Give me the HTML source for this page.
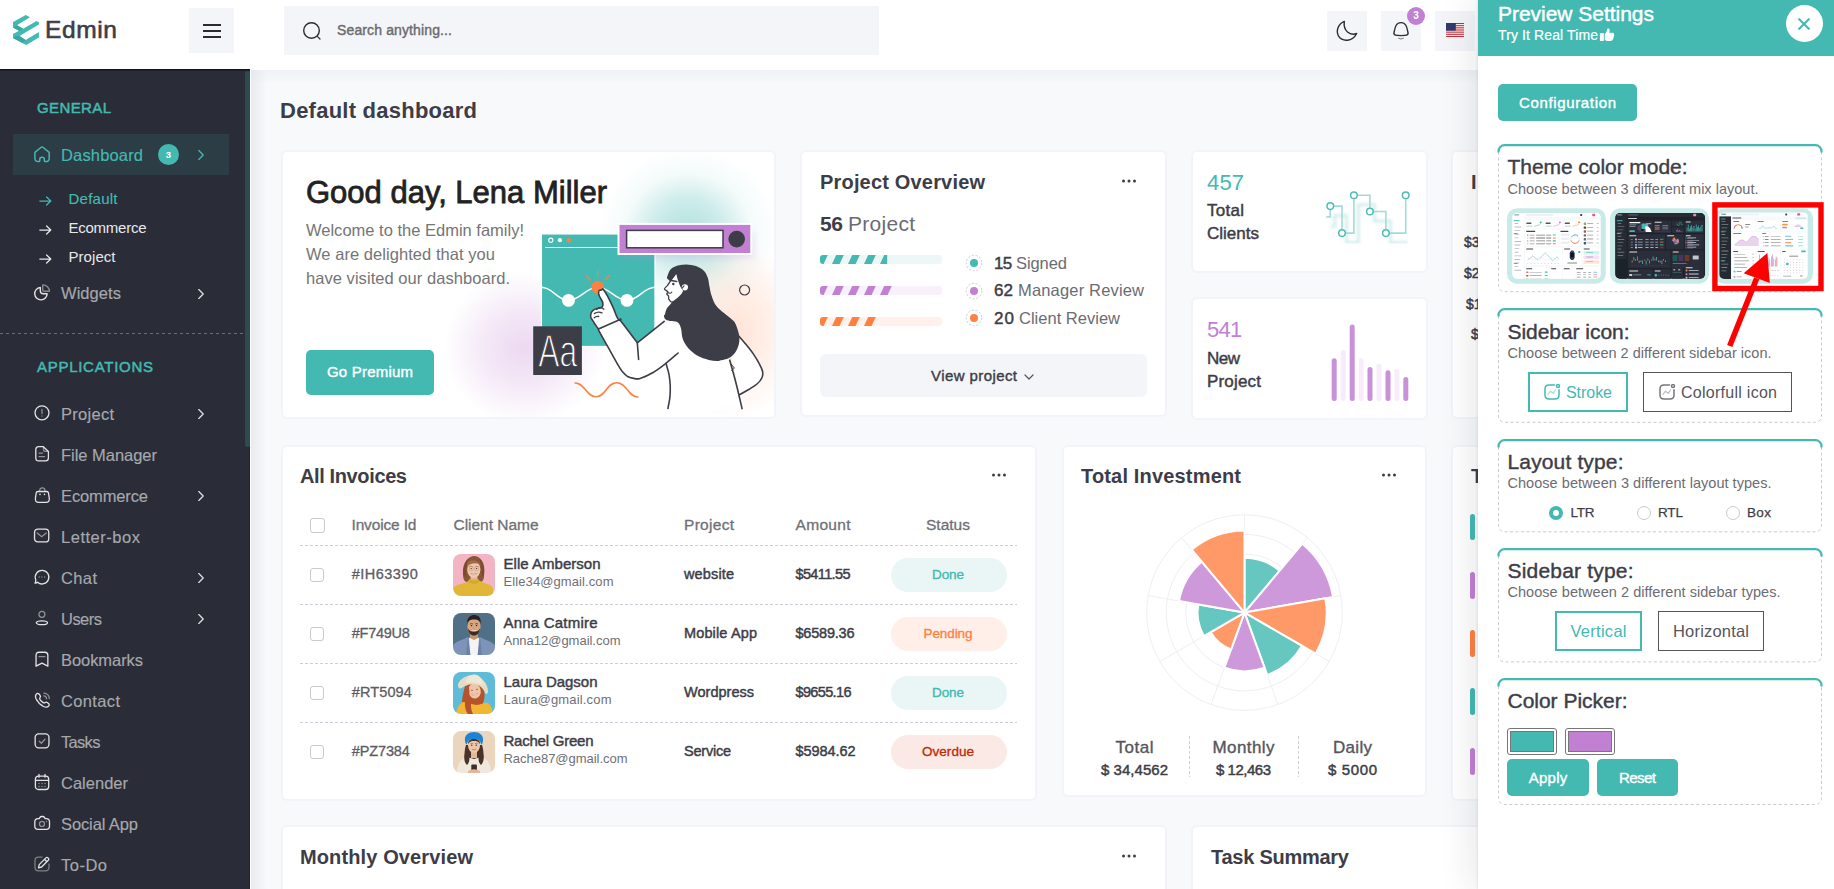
<!DOCTYPE html><html lang="en"><head><meta charset="utf-8"><title>Edmin - Default dashboard</title><style>

*{box-sizing:border-box;margin:0;padding:0}
html,body{width:1834px;height:889px;overflow:hidden;background:#fff;font-family:"Liberation Sans",sans-serif;}
body{position:relative}
#root{position:absolute;left:0;top:0;width:1834px;height:889px;overflow:hidden}
#root div,#root span.t,#root svg{position:absolute}
span.t{white-space:nowrap;display:block}
.card{background:#fff;border-radius:6px;border:2px solid #F3F4F9}

</style></head><body><div id="root">
<div style="left:251px;top:70px;width:1600px;height:830px;background:#F8F9FB"></div>
<div style="left:251px;top:70px;width:1600px;height:14px;background:linear-gradient(180deg,rgba(228,233,240,.5),rgba(228,233,240,0))"></div>
<div style="left:251px;top:70px;width:16px;height:830px;background:linear-gradient(90deg,rgba(226,229,234,.75),rgba(226,229,234,0))"></div>
<span class="t" style="top:99.85px;font-size:22px;line-height:22px;color:#3D3D47;font-weight:700;letter-spacing:0.241px;left:280px;">Default dashboard</span>
<div class="card" style="left:281px;top:150px;width:495px;height:269px"></div>
<svg style="left:281px;top:151px" width="494" height="266" viewBox="281 151 494 266">
<defs>
<radialGradient id="gt"><stop offset="0" stop-color="#43B9B2" stop-opacity=".42"/><stop offset=".4" stop-color="#43B9B2" stop-opacity=".26"/><stop offset=".7" stop-color="#43B9B2" stop-opacity=".06"/><stop offset="1" stop-color="#43B9B2" stop-opacity="0"/></radialGradient>
<radialGradient id="gp"><stop offset="0" stop-color="#C280D2" stop-opacity=".3"/><stop offset=".45" stop-color="#C280D2" stop-opacity=".19"/><stop offset="1" stop-color="#C280D2" stop-opacity="0"/></radialGradient>
<radialGradient id="go"><stop offset="0" stop-color="#FF9461" stop-opacity=".26"/><stop offset=".5" stop-color="#FF9461" stop-opacity=".14"/><stop offset="1" stop-color="#FF9461" stop-opacity="0"/></radialGradient>
<filter id="gsh" x="-10%" y="-30%" width="120%" height="170%"><feGaussianBlur stdDeviation="3"/></filter><clipPath id="gcl"><rect x="283" y="152" width="491" height="265" rx="4"/></clipPath>
</defs>
<g clip-path="url(#gcl)">
<ellipse cx="688" cy="232" rx="90" ry="84" fill="url(#gt)"/>
<ellipse cx="524" cy="348" rx="80" ry="76" fill="url(#gp)"/>
<ellipse cx="735" cy="330" rx="70" ry="88" fill="url(#go)"/>
<rect x="541.4" y="233.9" width="113.6" height="112.6" fill="#43B9B2" stroke="#fff" stroke-width="1.3"/>
<path d="M545.2 247.5H618" stroke="#fff" stroke-width="1.1"/>
<circle cx="550.8" cy="240.2" r="2.1" fill="none" stroke="#fff" stroke-width="1.1"/><circle cx="559.9" cy="240.2" r="2.1" fill="#fff"/><circle cx="568.9" cy="240.2" r="2.2" fill="#FF8142"/>
<path d="M541.4 287.3C553 287.3 557 300.4 568.5 300.4C580 300.4 586 287.3 597.7 287.3C609.5 287.3 615.5 300.4 627 300.4C638.5 300.4 643.500 287.3 655 287.3" fill="none" stroke="#fff" stroke-width="1.5"/>
<circle cx="568.5" cy="300.4" r="6.4" fill="#fff"/><circle cx="627" cy="300.4" r="6.4" fill="#fff"/>
<circle cx="597.7" cy="287.3" r="6.3" fill="#FF8142"/>
<path d="M597.7 270.5V277M586 275.5L590.6 280M609.600 275.5L605 280" stroke="#FF8142" stroke-width="1.1" stroke-linecap="round"/>
<rect x="622" y="232" width="132" height="27" fill="#C280D2" opacity=".18" filter="url(#gsh)"/><rect x="618.5" y="223.9" width="132.8" height="30.1" fill="#C280D2" stroke="#fff" stroke-width="2"/>
<rect x="626.6" y="230.4" width="96.400" height="17.4" fill="#fff" stroke="#3D3D47" stroke-width="1.5"/>
<circle cx="736.7" cy="239.1" r="8.3" fill="#3D3D47"/>
<circle cx="744.6" cy="290" r="5" fill="none" stroke="#3D3D47" stroke-width="1.2"/>
<path d="M575.1 383C585 383 586 396.7 595.9 396.7C606 396.7 606.500 382.8 616.6 382.8C627 382.8 628 397 637.9 397" fill="none" stroke="#FF8142" stroke-width="1.6" stroke-linecap="round"/>
<!-- right arm -->
<path d="M737.5 334.4C738.9 336.1 743.2 341.0 745.9 344.3C748.5 347.5 751.1 350.7 753.3 353.9C755.5 357.1 757.7 360.6 759.2 363.6C760.8 366.5 762.1 369.1 762.6 371.5C763.0 374.0 762.8 376.0 761.8 378.0C760.9 380.1 759.2 382.1 757.0 384.0C754.8 385.9 751.6 387.7 748.7 389.5C745.7 391.3 740.9 393.9 739.4 394.7L736.6 379.9L731.0 353.9Z" fill="#fff"/>
<path d="M737.5 334.4C738.9 336.1 743.2 341.0 745.9 344.3C748.5 347.5 751.1 350.7 753.3 353.9C755.5 357.1 757.7 360.6 759.2 363.6C760.8 366.5 762.1 369.1 762.6 371.5C763.0 374.0 762.8 376.0 761.8 378.0C760.9 380.1 759.2 382.1 757.0 384.0C754.8 385.9 751.6 387.7 748.7 389.5C745.7 391.3 740.9 393.9 739.4 394.7" fill="none" stroke="#3D3D47" stroke-width="1.6" stroke-linecap="round"/>
<!-- torso -->
<path d="M666.1 361.3L670.2 385.5L667.9 409.6L742.2 409.6L736.6 385.5L729.5 359.5L708.8 339.1L679.1 342.8Z" fill="#fff"/>
<path d="M666.1 363.2C667.4 370.6 669.5 370.1 670.2 385.5C670.8 400.8 668.7 401.3 667.9 409.2" fill="none" stroke="#3D3D47" stroke-width="1.6"/>
<path d="M729.5 359.5C731.0 364.7 734.1 375.5 736.6 385.5C739.1 395.4 741.0 404.5 742.2 409.2" fill="none" stroke="#3D3D47" stroke-width="1.6"/>
<path d="M730.7 363.6L734.4 368.0L731.4 371.0" fill="none" stroke="#3D3D47" stroke-width="1"/>
<!-- left arm -->
<path d="M598.4 329.8L617.8 365.0L627.1 376.2L640.1 378.4L653.1 372.5L666.1 363.2L677.2 353.9L686.5 342.8L677.2 321.4L664.2 321.4L637.3 342.8L619.7 319.6Z" fill="#fff"/>
<path d="M598.4 329.8C600.0 332.7 604.9 341.6 608.2 347.4C611.4 353.2 615.5 360.8 617.8 364.7C620.1 368.6 620.4 369.1 621.9 371.0C623.5 372.9 625.2 374.9 627.1 376.2C629.1 377.4 631.4 378.0 633.6 378.4C635.8 378.8 636.9 379.4 640.1 378.4C643.3 377.4 648.8 375.0 653.1 372.5C657.4 369.9 661.9 366.4 666.1 363.2C670.3 359.9 676.1 354.7 678.1 353.0" fill="none" stroke="#3D3D47" stroke-width="1.6" stroke-linecap="round"/>
<path d="M619.7 319.6L637.3 342.8L664.2 321.4" fill="none" stroke="#3D3D47" stroke-width="1.6" stroke-linejoin="round" stroke-linecap="round"/>
<path d="M637.3 342.8L638.6 359.5" stroke="#3D3D47" stroke-width="1.6" stroke-linecap="round"/>
<!-- hand -->
<path d="M598.4 328.9C596.8 326.5 595.2 325.1 592.9 320.9C590.6 316.7 590.3 318.5 590.7 315.1C591.1 311.6 590.7 312.4 594.3 309.5C598.0 306.6 601.5 310.2 602.8 305.6C604.1 300.9 599.2 298.5 598.7 293.9C598.3 289.2 599.5 290.6 601.4 289.9C603.2 289.2 601.7 287.2 604.9 291.7C608.0 296.1 608.0 296.8 611.9 304.8C615.8 312.8 615.1 314.0 617.7 318.3C620.4 322.6 619.8 318.9 620.7 319.2Z" fill="#fff"/>
<path d="M598.4 328.9C596.8 326.5 595.2 325.1 592.9 320.9C590.6 316.7 590.3 318.5 590.7 315.1C591.1 311.6 590.7 312.4 594.3 309.5C598.0 306.6 601.5 310.2 602.8 305.6C604.1 300.9 599.2 298.5 598.7 293.9C598.3 289.2 599.5 290.6 601.4 289.9C603.2 289.2 601.7 287.2 604.9 291.7C608.0 296.1 608.0 296.8 611.9 304.8C615.8 312.8 615.1 314.0 617.7 318.3C620.4 322.6 619.8 318.9 620.7 319.2" fill="none" stroke="#3D3D47" stroke-width="1.6" stroke-linecap="round" stroke-linejoin="round"/>
<path d="M596.5 309.5C597.8 308.9 597.8 307.8 600.2 307.7C602.6 307.6 602.6 308.7 603.9 309.2M594.3 313.6Q598.0 311.0 602.0 312.9M594.3 317.7Q596.1 315.8 598.7 316.5" fill="none" stroke="#3D3D47" stroke-width="1.3"  stroke-linecap="round"/>
<path d="M598.4 328.9L620.7 319.2" stroke="#3D3D47" stroke-width="1.6" stroke-linecap="round"/>
<!-- cuff to arm -->
<!-- hair + face -->
<path d="M667.6 275.6C668.2 274.1 669.0 270.8 670.7 269.2C672.5 267.5 675.2 266.4 677.8 265.6C680.5 264.8 683.5 264.4 686.5 264.4C689.5 264.5 693.1 265.0 695.9 266.0C698.8 267.1 701.9 268.8 703.8 270.7C705.8 272.7 706.8 275.2 707.8 277.8C708.7 280.5 708.8 283.5 709.5 286.5C710.1 289.5 710.4 292.5 711.7 295.9C713.0 299.4 713.9 303.1 717.2 307.0C720.5 310.8 728.3 316.2 731.4 319.0C734.5 321.9 734.3 321.2 735.7 324.2C737.0 327.3 739.1 333.2 739.4 337.2C739.7 341.2 738.9 345.1 737.5 348.3C736.1 351.6 734.0 354.6 731.0 356.7C728.1 358.8 723.6 360.3 719.9 360.8C716.2 361.3 712.5 360.7 708.8 359.9C705.0 359.0 701.0 357.7 697.6 355.8C694.2 353.9 690.8 351.1 688.3 348.3C685.9 345.6 684.0 342.5 682.8 339.1C681.5 335.7 681.9 330.8 680.9 327.9C680.0 325.1 679.1 323.2 677.2 322.0C675.4 320.8 671.8 321.4 669.8 320.9C667.8 320.4 666.1 320.0 665.2 319.0C664.2 318.0 663.9 315.6 663.9 314.9C663.8 314.2 664.3 315.9 664.8 314.8C665.3 313.8 665.6 310.6 666.8 308.5C668.0 306.4 670.5 304.9 671.9 302.2C673.4 299.6 675.8 296.3 675.5 292.8C675.1 289.3 671.3 283.7 670.0 281.4C668.6 279.0 667.6 279.6 667.2 278.6C666.8 277.7 667.0 277.2 667.6 275.6Z" fill="#3D3D47"/>
<path d="M686.9 350.2C692.9 353.4 690.8 357.2 705.0 359.9C719.3 362.5 721.4 358.7 729.5 358.2" fill="none" stroke="#fff" stroke-width="1" transform="translate(-0.3 1.2)"/>
<path d="M676.3 273.5C675.4 273.5 672.2 278.8 671.1 280.2C670.1 281.6 668.4 284.3 667.6 285.3C666.8 286.3 664.4 288.1 664.4 288.9C664.5 289.6 667.7 291.3 668.0 291.9C668.3 292.4 666.7 293.5 666.8 294.0C666.9 294.5 668.3 295.3 668.5 295.9C668.8 296.5 668.4 298.4 668.8 299.1C669.2 299.8 671.0 302.2 671.9 302.2C672.9 302.2 675.9 300.0 677.0 299.1C678.2 298.2 681.0 295.3 681.8 294.4C682.6 293.4 683.8 291.7 683.7 290.8C683.6 289.9 681.6 287.7 681.0 286.5C680.4 285.3 679.2 281.7 678.6 280.2C678.1 278.7 677.1 273.5 676.3 273.5Z" fill="#fff" stroke="#3D3D47" stroke-width="1.3"/>
<circle cx="684.9" cy="287.3" r="3.1" fill="#fff"/>
<path d="M682.2 288.1L684.0 285.9" stroke="#3D3D47" stroke-width="1.1" stroke-linecap="round"/>
<circle cx="673.3" cy="284.1" r="1.25" fill="#3D3D47"/>
<path d="M671.1 280.4L676.7 281.5" stroke="#3D3D47" stroke-width="1.5" stroke-linecap="round"/>
<path d="M668.5 292.8Q670.4 294.1 671.8 292.0" fill="none" stroke="#3D3D47" stroke-width="1.1" stroke-linecap="round"/>
<!-- Aa box -->
<rect x="533.2" y="326.3" width="48.7" height="48.7" fill="#3D3D47"/>
<text x="538.2" y="367.2" font-family="Liberation Sans, sans-serif" font-size="46" fill="#fff" textLength="39" lengthAdjust="spacingAndGlyphs" stroke="#3D3D47" stroke-width="1.35">Aa</text>
</g></svg>
<span class="t" style="top:176.86px;font-size:31px;line-height:31px;color:#222;-webkit-text-stroke:0.8px #222;letter-spacing:0.001px;left:306px;">Good day, Lena Miller</span>
<span class="t" style="top:221.94px;font-size:16.5px;line-height:16.5px;color:#757575;letter-spacing:0.002px;left:306px;">Welcome to the Edmin family!</span>
<span class="t" style="top:245.94px;font-size:16.5px;line-height:16.5px;color:#757575;letter-spacing:0.052px;left:306px;">We are delighted that you</span>
<span class="t" style="top:269.94px;font-size:16.5px;line-height:16.5px;color:#757575;letter-spacing:0.049px;left:306px;">have visited our dashboard.</span>
<div style="left:306px;top:350px;width:128px;height:44.5px;background:#43B9B2;border-radius:5px"></div>
<span class="t" style="top:364.37px;font-size:15px;line-height:15px;color:#fff;-webkit-text-stroke:0.4px #fff;letter-spacing:0.201px;left:327.00px;">Go Premium</span>
<div class="card" style="left:800px;top:150px;width:367.3px;height:267px"></div>
<span class="t" style="top:172.23px;font-size:20px;line-height:20px;color:#3D3D47;font-weight:700;letter-spacing:0.179px;left:820px;">Project Overview</span>
<svg style="left:1121px;top:178px" width="16" height="6" viewBox="0 0 16 6"><circle cx="2.5" cy="3" r="1.5" fill="#3D3D47"/><circle cx="8" cy="3" r="1.5" fill="#3D3D47"/><circle cx="13.5" cy="3" r="1.5" fill="#3D3D47"/></svg>
<span class="t" style="top:212.74px;font-size:21px;line-height:21px;color:#3D3D47;font-weight:700;letter-spacing:-0.359px;left:820px;">56</span>
<span class="t" style="top:212.74px;font-size:21px;line-height:21px;color:#6b6b72;letter-spacing:0.273px;left:848px;">Project</span>
<svg style="left:820px;top:255px" width="122" height="9" viewBox="0 0 122 9"><defs><clipPath id="pbc1"><rect width="122" height="9" rx="3"/></clipPath><clipPath id="pbf1"><rect width="67.2" height="9"/></clipPath></defs><g clip-path="url(#pbc1)"><rect width="122" height="9" fill="#ECF7F6"/><g clip-path="url(#pbf1)" fill="#43B9B2"><polygon points="-4,9 3.5999999999999996,9 7.8,0 0.20000000000000018,0"/><polygon points="12,9 19.6,9 23.8,0 16.2,0"/><polygon points="28,9 35.6,9 39.800000000000004,0 32.2,0"/><polygon points="44,9 51.6,9 55.800000000000004,0 48.2,0"/><polygon points="60,9 67.6,9 71.8,0 64.2,0"/><polygon points="76,9 83.6,9 87.8,0 80.2,0"/><polygon points="92,9 99.6,9 103.8,0 96.2,0"/><polygon points="108,9 115.6,9 119.8,0 112.2,0"/></g></g></svg>
<svg style="left:820px;top:286px" width="122" height="9" viewBox="0 0 122 9"><defs><clipPath id="pbc2"><rect width="122" height="9" rx="3"/></clipPath><clipPath id="pbf2"><rect width="72" height="9"/></clipPath></defs><g clip-path="url(#pbc2)"><rect width="122" height="9" fill="#F8F0FA"/><g clip-path="url(#pbf2)" fill="#C280D2"><polygon points="-4,9 3.5999999999999996,9 7.8,0 0.20000000000000018,0"/><polygon points="12,9 19.6,9 23.8,0 16.2,0"/><polygon points="28,9 35.6,9 39.800000000000004,0 32.2,0"/><polygon points="44,9 51.6,9 55.800000000000004,0 48.2,0"/><polygon points="60,9 67.6,9 71.8,0 64.2,0"/><polygon points="76,9 83.6,9 87.8,0 80.2,0"/><polygon points="92,9 99.6,9 103.8,0 96.2,0"/><polygon points="108,9 115.6,9 119.8,0 112.2,0"/></g></g></svg>
<svg style="left:820px;top:317px" width="122" height="9" viewBox="0 0 122 9"><defs><clipPath id="pbc3"><rect width="122" height="9" rx="3"/></clipPath><clipPath id="pbf3"><rect width="57" height="9"/></clipPath></defs><g clip-path="url(#pbc3)"><rect width="122" height="9" fill="#FFF0EB"/><g clip-path="url(#pbf3)" fill="#FF8142"><polygon points="-4,9 3.5999999999999996,9 7.8,0 0.20000000000000018,0"/><polygon points="12,9 19.6,9 23.8,0 16.2,0"/><polygon points="28,9 35.6,9 39.800000000000004,0 32.2,0"/><polygon points="44,9 51.6,9 55.800000000000004,0 48.2,0"/><polygon points="60,9 67.6,9 71.8,0 64.2,0"/><polygon points="76,9 83.6,9 87.8,0 80.2,0"/><polygon points="92,9 99.6,9 103.8,0 96.2,0"/><polygon points="108,9 115.6,9 119.8,0 112.2,0"/></g></g></svg>
<svg style="left:965px;top:254px" width="18" height="18" viewBox="0 0 18 18"><circle cx="9" cy="9" r="7.8" fill="#fff" stroke="#c6c8d0" stroke-width="0.9" stroke-dasharray="2.2 1.6"/><circle cx="9" cy="9" r="4" fill="#43B9B2"/></svg>
<span class="t" style="top:255.20px;font-size:17px;line-height:17px;color:#3D3D47;-webkit-text-stroke:0.45px #3D3D47;letter-spacing:-0.7px;left:994px;">15</span>
<span class="t" style="top:255.44px;font-size:16.5px;line-height:16.5px;color:#6b6b72;letter-spacing:-0.078px;left:1016px;">Signed</span>
<svg style="left:965px;top:282px" width="18" height="18" viewBox="0 0 18 18"><circle cx="9" cy="9" r="7.8" fill="#fff" stroke="#c6c8d0" stroke-width="0.9" stroke-dasharray="2.2 1.6"/><circle cx="9" cy="9" r="4" fill="#C280D2"/></svg>
<span class="t" style="top:282.20px;font-size:17px;line-height:17px;color:#3D3D47;-webkit-text-stroke:0.45px #3D3D47;letter-spacing:0.078px;left:994px;">62</span>
<span class="t" style="top:282.44px;font-size:16.5px;line-height:16.5px;color:#6b6b72;letter-spacing:0.168px;left:1018px;">Manager Review</span>
<svg style="left:965px;top:309px" width="18" height="18" viewBox="0 0 18 18"><circle cx="9" cy="9" r="7.8" fill="#fff" stroke="#c6c8d0" stroke-width="0.9" stroke-dasharray="2.2 1.6"/><circle cx="9" cy="9" r="4" fill="#FF8142"/></svg>
<span class="t" style="top:309.70px;font-size:17px;line-height:17px;color:#3D3D47;-webkit-text-stroke:0.45px #3D3D47;letter-spacing:1.0px;left:994px;">20</span>
<span class="t" style="top:309.94px;font-size:16.5px;line-height:16.5px;color:#6b6b72;letter-spacing:0.01px;left:1019px;">Client Review</span>
<div style="left:820px;top:354px;width:327px;height:43px;background:#F4F5F9;border-radius:6px"></div>
<span class="t" style="top:368.47px;font-size:15px;line-height:15px;color:#3D3D47;-webkit-text-stroke:0.4px #3D3D47;letter-spacing:0.415px;left:931px;">View project</span>
<svg style="left:1023px;top:373px" width="12" height="8" viewBox="0 0 12 8"><path d="M2 2 L6 6 L10 2" fill="none" stroke="#55555d" stroke-width="1.2" stroke-linecap="round" stroke-linejoin="round"/></svg>
<div class="card" style="left:1191px;top:150px;width:236.5px;height:123px"></div>
<span class="t" style="top:171.75px;font-size:22px;line-height:22px;color:#43B9B2;letter-spacing:0.141px;left:1207px;">457</span>
<span class="t" style="top:202.20px;font-size:17px;line-height:17px;color:#3D3D47;-webkit-text-stroke:0.45px #3D3D47;letter-spacing:0.27px;left:1207px;">Total</span>
<span class="t" style="top:225.20px;font-size:17px;line-height:17px;color:#3D3D47;-webkit-text-stroke:0.45px #3D3D47;letter-spacing:0.005px;left:1207px;">Clients</span>
<svg style="left:1316px;top:180px" width="104" height="74" viewBox="1316 180 104 74">
<defs><filter id="spb" x="-20%" y="-20%" width="140%" height="140%"><feGaussianBlur stdDeviation="1.6"/></filter><clipPath id="spc"><rect x="1316" y="180" width="91.5" height="63.5"/></clipPath></defs>
<g clip-path="url(#spc)"><path d="M1326.3 216.9H1330.3V206.1H1342V233.1H1353.9V195.3H1369.9V211.5H1385.9V233.1H1405.7V195.3" transform="translate(4.5 9.5)" fill="none" stroke="#43B9B2" stroke-width="3" opacity=".24" filter="url(#spb)"/></g>
<path d="M1326.3 216.9H1330.3V206.1H1342V233.1H1353.9V195.3H1369.9V211.5H1385.9V233.1H1405.7V195.3" fill="none" stroke="#A1DCD8" stroke-width="1.6"/>
<circle cx="1330.3" cy="206.1" r="3.3" fill="#fff" stroke="#4FBDB6" stroke-width="1.5"/><circle cx="1342" cy="233.1" r="3.3" fill="#fff" stroke="#4FBDB6" stroke-width="1.5"/><circle cx="1353.9" cy="195.3" r="3.3" fill="#fff" stroke="#4FBDB6" stroke-width="1.5"/><circle cx="1369.9" cy="211.5" r="3.3" fill="#fff" stroke="#4FBDB6" stroke-width="1.5"/><circle cx="1385.9" cy="233.1" r="3.3" fill="#fff" stroke="#4FBDB6" stroke-width="1.5"/><circle cx="1405.7" cy="195.3" r="3.3" fill="#fff" stroke="#4FBDB6" stroke-width="1.5"/></svg>
<div class="card" style="left:1191px;top:297px;width:236.5px;height:123.3px"></div>
<span class="t" style="top:318.75px;font-size:22px;line-height:22px;color:#C280D2;letter-spacing:-0.7px;left:1207px;">541</span>
<span class="t" style="top:349.70px;font-size:17px;line-height:17px;color:#3D3D47;-webkit-text-stroke:0.45px #3D3D47;letter-spacing:-0.508px;left:1207px;">New</span>
<span class="t" style="top:372.70px;font-size:17px;line-height:17px;color:#3D3D47;-webkit-text-stroke:0.45px #3D3D47;letter-spacing:0.18px;left:1207px;">Project</span>
<svg style="left:1325px;top:320px" width="90" height="85" viewBox="1325 320 90 85"><rect x="1331.7" y="358.3" width="5" height="42.7" rx="2.5" fill="#C991D8"/><rect x="1340.7" y="350" width="5" height="51.0" rx="2.5" fill="#F7ECFA"/><rect x="1349.7" y="324.4" width="5" height="76.6" rx="2.5" fill="#C991D8"/><rect x="1358.6" y="358.3" width="5" height="42.7" rx="2.5" fill="#F7ECFA"/><rect x="1367.5" y="367" width="5" height="34.0" rx="2.5" fill="#C991D8"/><rect x="1376.5" y="363.6" width="5" height="37.4" rx="2.5" fill="#F7ECFA"/><rect x="1385.5" y="370.2" width="5" height="30.8" rx="2.5" fill="#C991D8"/><rect x="1394.4" y="368.7" width="5" height="32.3" rx="2.5" fill="#F7ECFA"/><rect x="1403.3" y="377" width="5" height="24.0" rx="2.5" fill="#C991D8"/></svg>
<div class="card" style="left:1451.3px;top:150px;width:300px;height:269px"></div>
<span class="t" style="top:172.23px;font-size:20px;line-height:20px;color:#3D3D47;font-weight:700;left:1471px;letter-spacing:3px;">Income</span>
<span class="t" style="top:235.16px;font-size:14px;line-height:14px;color:#3D3D47;-webkit-text-stroke:0.45px #3D3D47;left:1464px;">$3000</span>
<span class="t" style="top:266.16px;font-size:14px;line-height:14px;color:#3D3D47;-webkit-text-stroke:0.45px #3D3D47;left:1464px;">$2000</span>
<span class="t" style="top:297.16px;font-size:14px;line-height:14px;color:#3D3D47;-webkit-text-stroke:0.45px #3D3D47;left:1466px;">$1000</span>
<span class="t" style="top:327.16px;font-size:14px;line-height:14px;color:#3D3D47;-webkit-text-stroke:0.45px #3D3D47;left:1471px;">$0</span>
<div class="card" style="left:1451.3px;top:444.5px;width:300px;height:356px"></div>
<span class="t" style="top:466.23px;font-size:20px;line-height:20px;color:#3D3D47;font-weight:700;left:1471px;">Timeline</span>
<div style="left:1470px;top:514px;width:5px;height:26px;background:#43B9B2;border-radius:3px"></div>
<div style="left:1470px;top:571.5px;width:5px;height:27.0px;background:#C280D2;border-radius:3px"></div>
<div style="left:1470px;top:630px;width:5px;height:27px;background:#FF8142;border-radius:3px"></div>
<div style="left:1470px;top:688.3px;width:5px;height:27.100000000000023px;background:#43B9B2;border-radius:3px"></div>
<div style="left:1470px;top:747.6px;width:5px;height:27.0px;background:#C280D2;border-radius:3px"></div>
<div class="card" style="left:281px;top:444.5px;width:756px;height:356px"></div>
<span class="t" style="top:466.23px;font-size:20px;line-height:20px;color:#3D3D47;font-weight:700;letter-spacing:-0.378px;left:300px;">All Invoices</span>
<svg style="left:991px;top:472px" width="16" height="6" viewBox="0 0 16 6"><circle cx="2.5" cy="3" r="1.5" fill="#3D3D47"/><circle cx="8" cy="3" r="1.5" fill="#3D3D47"/><circle cx="13.5" cy="3" r="1.5" fill="#3D3D47"/></svg>
<div style="left:310px;top:518px;width:15px;height:15px;border:1px solid #c9c9cf;border-radius:3px;background:#fff"></div>
<span class="t" style="top:517.43px;font-size:15.5px;line-height:15.5px;color:#6f6f76;-webkit-text-stroke:0.3px #6f6f76;letter-spacing:-0.151px;left:351.5px;">Invoice Id</span>
<span class="t" style="top:517.43px;font-size:15.5px;line-height:15.5px;color:#6f6f76;-webkit-text-stroke:0.3px #6f6f76;letter-spacing:-0.028px;left:453.5px;">Client Name</span>
<span class="t" style="top:517.43px;font-size:15.5px;line-height:15.5px;color:#6f6f76;-webkit-text-stroke:0.3px #6f6f76;letter-spacing:0.292px;left:684px;">Project</span>
<span class="t" style="top:517.43px;font-size:15.5px;line-height:15.5px;color:#6f6f76;-webkit-text-stroke:0.3px #6f6f76;letter-spacing:0.316px;left:795.5px;">Amount</span>
<span class="t" style="top:517.43px;font-size:15.5px;line-height:15.5px;color:#6f6f76;-webkit-text-stroke:0.3px #6f6f76;letter-spacing:0.009px;left:926.00px;">Status</span>
<div style="left:300px;top:545px;width:717px;height:1px;background:repeating-linear-gradient(90deg,#cdced8 0 3px,transparent 3px 5px)"></div>
<div style="left:310px;top:567.7px;width:14px;height:14px;border:1px solid #c9c9cf;border-radius:3px;background:#fff"></div>
<span class="t" style="top:567.32px;font-size:14.5px;line-height:14.5px;color:#5c5c64;-webkit-text-stroke:0.3px #5c5c64;letter-spacing:0.444px;left:351.8px;">#IH63390</span>
<svg style="left:453px;top:554px" width="42" height="42" viewBox="0 0 42 42"><defs><clipPath id="avc0"><rect width="42" height="42" rx="8"/></clipPath><filter id="avb0"><feGaussianBlur stdDeviation="0.5"/></filter></defs><g clip-path="url(#avc0)"><g filter="url(#avb0)"><rect width="42" height="42" fill="#F3B4C3"/>
<path d="M10 20C9 8 16 2 21 2C27 2 33 8 31 22C31 26 29 28 27 28L14 28C11 28 10 24 10 20Z" fill="#8A5638"/>
<rect x="17.5" y="20" width="7" height="9" fill="#E3B598"/>
<ellipse cx="20.8" cy="15.5" rx="6.6" ry="8.4" fill="#EEC7AC"/>
<path d="M14 9C17 5 25 5 28 11C25 9 18 8 14 13Z" fill="#A06A47"/>
<path d="M17.5 19.5Q20.8 22.5 24 19.5Q20.8 20.6 17.5 19.5Z" fill="#fff" stroke="#B56B5B" stroke-width=".4"/>
<ellipse cx="18.2" cy="14.6" rx=".7" ry=".55" fill="#4a3328"/><ellipse cx="23.6" cy="14.6" rx=".7" ry=".55" fill="#4a3328"/>
<circle cx="18.2" cy="14.7" r="2.2" fill="none" stroke="#a88672" stroke-width=".35"/><circle cx="23.6" cy="14.7" r="2.2" fill="none" stroke="#a88672" stroke-width=".35"/><path d="M20.4 14.5H21.4" stroke="#a88672" stroke-width=".35"/>
<path d="M16.3 12.6Q18.2 11.9 19.8 12.7M22 12.7Q23.600 11.9 25.500 12.6" stroke="#8A5638" stroke-width=".45" fill="none"/>
<path d="M10.500 21C9.500 12 13 6 16 5C13.500 9 12.500 15 13.600 24Z" fill="#6E4129" opacity=".55"/><path d="M31 21C32 12 29 6 26 5C28.500 9 29.500 15 28.600 24Z" fill="#6E4129" opacity=".55"/>
<path d="M0 42V34C4 30 10 30 14 28C16 26 17 25 17 25H25C25 25 26 27 29 28C33 30 38 30 40 34V42Z" fill="#E2B738"/>
<path d="M16.5 25.5Q21 28 25.5 25.5L26 28.5Q21 31 16 28.5Z" fill="#D4A82D"/></g></g></svg>
<span class="t" style="top:555.87px;font-size:15px;line-height:15px;color:#3D3D47;-webkit-text-stroke:0.45px #3D3D47;letter-spacing:0.023px;left:503.5px;">Elle Amberson</span>
<span class="t" style="top:575.15px;font-size:13px;line-height:13px;color:#6f6f76;letter-spacing:0.095px;left:503.5px;">Elle34@gmail.com</span>
<span class="t" style="top:566.92px;font-size:14.5px;line-height:14.5px;color:#3D3D47;-webkit-text-stroke:0.45px #3D3D47;letter-spacing:0.138px;left:684px;">website</span>
<span class="t" style="top:566.92px;font-size:14.5px;line-height:14.5px;color:#3D3D47;-webkit-text-stroke:0.45px #3D3D47;letter-spacing:-0.629px;left:795.5px;">$5411.55</span>
<div style="left:891px;top:558px;width:116px;height:34px;background:#E9F6F5;border-radius:17px"></div>
<span class="t" style="top:567.91px;font-size:13.5px;line-height:13.5px;color:#43B9B2;-webkit-text-stroke:0.35px #43B9B2;letter-spacing:-0.094px;left:932.00px;">Done</span>
<div style="left:300px;top:604px;width:717px;height:1px;background:repeating-linear-gradient(90deg,#cdced8 0 3px,transparent 3px 5px)"></div>
<div style="left:310px;top:626.7px;width:14px;height:14px;border:1px solid #c9c9cf;border-radius:3px;background:#fff"></div>
<span class="t" style="top:626.32px;font-size:14.5px;line-height:14.5px;color:#5c5c64;-webkit-text-stroke:0.3px #5c5c64;letter-spacing:-0.276px;left:351.8px;">#F749U8</span>
<svg style="left:453px;top:613px" width="42" height="42" viewBox="0 0 42 42"><defs><clipPath id="avc1"><rect width="42" height="42" rx="8"/></clipPath><filter id="avb1"><feGaussianBlur stdDeviation="0.5"/></filter></defs><g clip-path="url(#avc1)"><g filter="url(#avb1)"><rect width="42" height="42" fill="#4F6F87"/>
<rect x="17" y="20" width="8" height="8" fill="#C8946D"/>
<ellipse cx="21" cy="13.5" rx="6.6" ry="8" fill="#D9A680"/>
<path d="M14.3 11C13.5 4 18 2 21 2C25 2 28.5 4 27.7 11C27 7.5 25 6.5 21 6.5C17 6.5 15 7.5 14.3 11Z" fill="#2A2422"/>
<path d="M14.8 15C15.5 20 18 22.5 21 22.5C24 22.5 26.5 20 27.2 15C26 18 24 18.6 21 18.6C18 18.6 16 18 14.8 15Z" fill="#3B2C26"/>
<path d="M18 17.2Q21 19.4 24 17.2Q21 18 18 17.2Z" fill="#fff"/>
<ellipse cx="18.500" cy="12.6" rx=".75" ry=".55" fill="#1f1613"/><ellipse cx="23.500" cy="12.6" rx=".75" ry=".55" fill="#1f1613"/>
<path d="M16.800 11Q18.500 10.200 20 11M22 11Q23.500 10.200 25.200 11" stroke="#2A2422" stroke-width=".6" fill="none"/>
<path d="M20.600 13.500Q20.300 15.500 21 16Q21.700 16 21.900 15.600" stroke="#B9845F" stroke-width=".4" fill="none"/>
<path d="M0 42V32C3 28 10 27 15 24L21 30L27 24C32 27 38 28 42 32V42Z" fill="#7D94B8"/>
<path d="M16 24.5L21 27L26 24.5L25 42H17Z" fill="#F4F4F4"/>
<path d="M15 24L17.5 42H13Z M27 24L24.5 42H29Z" fill="#6A82A8"/></g></g></svg>
<span class="t" style="top:614.87px;font-size:15px;line-height:15px;color:#3D3D47;-webkit-text-stroke:0.45px #3D3D47;letter-spacing:0.207px;left:503.5px;">Anna Catmire</span>
<span class="t" style="top:634.15px;font-size:13px;line-height:13px;color:#6f6f76;letter-spacing:-0.018px;left:503.5px;">Anna12@gmail.com</span>
<span class="t" style="top:625.92px;font-size:14.5px;line-height:14.5px;color:#3D3D47;-webkit-text-stroke:0.45px #3D3D47;letter-spacing:0.139px;left:684px;">Mobile App</span>
<span class="t" style="top:625.92px;font-size:14.5px;line-height:14.5px;color:#3D3D47;-webkit-text-stroke:0.45px #3D3D47;letter-spacing:-0.212px;left:795.5px;">$6589.36</span>
<div style="left:891px;top:617px;width:116px;height:34px;background:#FFEFE8;border-radius:17px"></div>
<span class="t" style="top:626.91px;font-size:13.5px;line-height:13.5px;color:#FF8142;-webkit-text-stroke:0.35px #FF8142;letter-spacing:-0.091px;left:923.50px;">Pending</span>
<div style="left:300px;top:663px;width:717px;height:1px;background:repeating-linear-gradient(90deg,#cdced8 0 3px,transparent 3px 5px)"></div>
<div style="left:310px;top:685.7px;width:14px;height:14px;border:1px solid #c9c9cf;border-radius:3px;background:#fff"></div>
<span class="t" style="top:685.32px;font-size:14.5px;line-height:14.5px;color:#5c5c64;-webkit-text-stroke:0.3px #5c5c64;letter-spacing:0.102px;left:351.8px;">#RT5094</span>
<svg style="left:453px;top:672px" width="42" height="42" viewBox="0 0 42 42"><defs><clipPath id="avc2"><rect width="42" height="42" rx="8"/></clipPath><filter id="avb2"><feGaussianBlur stdDeviation="0.5"/></filter></defs><g clip-path="url(#avc2)"><g filter="url(#avb2)"><rect width="42" height="42" fill="#5EBCD8"/>
<path d="M12 14C10 22 8 30 9 40L24 40C30 34 33 26 31 16C28 8 16 8 12 14Z" fill="#B5532A"/>
<ellipse cx="21.5" cy="19" rx="6.2" ry="7.6" fill="#F0C4A6" transform="rotate(-12 21.5 19)"/>
<path d="M18.5 22.3Q21.5 25 24.8 21.4Q21.6 23 18.5 22.3Z" fill="#fff" stroke="#C4675A" stroke-width=".3"/>
<ellipse cx="19" cy="18.300" rx=".7" ry=".5" fill="#3b2a22"/><ellipse cx="24" cy="17.300" rx=".7" ry=".5" fill="#3b2a22"/>
<path d="M14 16C13 22 12 28 13 34C16 30 17 22 16 15Z" fill="#B5532A"/>
<path d="M5 13C5 9 12 3 20 3C28 3 35 12 35 19C35 22 33 23 32 21C30 15 24 11.5 17 12.5C12 13.2 8 17 7 16.5C5.5 16 5 14.5 5 13Z" fill="#E6DCC6"/>
<path d="M12.5 11C13 6 17 2.5 21 2.5C26 2.5 30 7 31 14C27 11 19 9.5 12.5 11Z" fill="#EFE8D6"/>
<path d="M3 42C4 36 6 32 10 30C14 30 20 33 24 33C28 33 32 30 35 31C38 33 39.5 38 40 42Z" fill="#F1B630"/>
<path d="M13 26C11 32 12 38 15 42H20C17 36 18 30 19 26Z" fill="#B5532A"/></g></g></svg>
<span class="t" style="top:673.87px;font-size:15px;line-height:15px;color:#3D3D47;-webkit-text-stroke:0.45px #3D3D47;letter-spacing:-0.021px;left:503.5px;">Laura Dagson</span>
<span class="t" style="top:693.15px;font-size:13px;line-height:13px;color:#6f6f76;letter-spacing:0.165px;left:503.5px;">Laura@gmail.com</span>
<span class="t" style="top:684.92px;font-size:14.5px;line-height:14.5px;color:#3D3D47;-webkit-text-stroke:0.45px #3D3D47;letter-spacing:0.02px;left:684px;">Wordpress</span>
<span class="t" style="top:684.92px;font-size:14.5px;line-height:14.5px;color:#3D3D47;-webkit-text-stroke:0.45px #3D3D47;letter-spacing:-0.641px;left:795.5px;">$9655.16</span>
<div style="left:891px;top:676px;width:116px;height:34px;background:#E9F6F5;border-radius:17px"></div>
<span class="t" style="top:685.91px;font-size:13.5px;line-height:13.5px;color:#43B9B2;-webkit-text-stroke:0.35px #43B9B2;letter-spacing:-0.094px;left:932.00px;">Done</span>
<div style="left:300px;top:722px;width:717px;height:1px;background:repeating-linear-gradient(90deg,#cdced8 0 3px,transparent 3px 5px)"></div>
<div style="left:310px;top:744.7px;width:14px;height:14px;border:1px solid #c9c9cf;border-radius:3px;background:#fff"></div>
<span class="t" style="top:744.32px;font-size:14.5px;line-height:14.5px;color:#5c5c64;-webkit-text-stroke:0.3px #5c5c64;letter-spacing:-0.143px;left:351.8px;">#PZ7384</span>
<svg style="left:453px;top:731px" width="42" height="42" viewBox="0 0 42 42"><defs><clipPath id="avc3"><rect width="42" height="42" rx="8"/></clipPath><filter id="avb3"><feGaussianBlur stdDeviation="0.5"/></filter></defs><g clip-path="url(#avc3)"><g filter="url(#avb3)"><rect width="42" height="42" fill="#EBD5BC"/>
<path d="M13 14C11 20 11 28 13 33H29C31 28 31 20 29 14Z" fill="#4A332A"/>
<rect x="18" y="20" width="6" height="7" fill="#E3B79A"/>
<ellipse cx="21" cy="14.5" rx="6" ry="7.4" fill="#EDC6AB"/>
<path d="M12 10C11 4 16 1 21 1C26 1 31 4 30 10C29.5 13 28.5 14 28 13C27 9 25 8 21 8C17 8 15 9 14 13C13.5 14 12.5 13 12 10Z" fill="#1F84D6"/>
<path d="M15 13C15 9.5 17 8 21 8C25 8 27 9.5 27 13C25.5 10.5 23.5 10 21 10C18.5 10 16.5 10.5 15 13Z" fill="#4A332A"/>
<path d="M18.8 18.2Q21 19.6 23.2 18.2" stroke="#B3685C" stroke-width=".7" fill="none"/>
<ellipse cx="18.700" cy="14.200" rx=".75" ry=".6" fill="#3b2a22"/><ellipse cx="23.300" cy="14.200" rx=".75" ry=".6" fill="#3b2a22"/>
<path d="M17.300 12.700Q18.700 12 20 12.700M22 12.700Q23.300 12 24.700 12.700" stroke="#4A332A" stroke-width=".45" fill="none"/>
<path d="M4 42C4 32 8 28 14 26L21 28L28 26C34 28 38 32 38 42Z" fill="#F1E8DD"/>
<path d="M12.5 21C10.5 26 11 31 14 34C17 31 17 26 15.5 21Z M29.5 21C31.5 26 31 31 28 34C25 31 25 26 26.5 21Z" fill="#4A332A"/>
<rect x="18.3" y="33.5" width="5.6" height="8" rx="1" fill="#3A2E2C"/>
<path d="M15 40Q21 36.5 27 40V42H15Z" fill="#E3B79A"/></g></g></svg>
<span class="t" style="top:732.87px;font-size:15px;line-height:15px;color:#3D3D47;-webkit-text-stroke:0.45px #3D3D47;letter-spacing:-0.233px;left:503.5px;">Rachel Green</span>
<span class="t" style="top:752.15px;font-size:13px;line-height:13px;color:#6f6f76;letter-spacing:-0.03px;left:503.5px;">Rache87@gmail.com</span>
<span class="t" style="top:743.92px;font-size:14.5px;line-height:14.5px;color:#3D3D47;-webkit-text-stroke:0.45px #3D3D47;letter-spacing:-0.227px;left:684px;">Service</span>
<span class="t" style="top:743.92px;font-size:14.5px;line-height:14.5px;color:#3D3D47;-webkit-text-stroke:0.45px #3D3D47;letter-spacing:-0.069px;left:795.5px;">$5984.62</span>
<div style="left:891px;top:735px;width:116px;height:34px;background:#FBE9E5;border-radius:17px"></div>
<span class="t" style="top:744.91px;font-size:13.5px;line-height:13.5px;color:#C42A02;-webkit-text-stroke:0.35px #C42A02;letter-spacing:0.036px;left:922.00px;">Overdue</span>
<div class="card" style="left:1061.5px;top:444.5px;width:365.5px;height:352.2px"></div>
<span class="t" style="top:466.23px;font-size:20px;line-height:20px;color:#3D3D47;font-weight:700;letter-spacing:0.171px;left:1081px;">Total Investment</span>
<svg style="left:1381px;top:472px" width="16" height="6" viewBox="0 0 16 6"><circle cx="2.5" cy="3" r="1.5" fill="#3D3D47"/><circle cx="8" cy="3" r="1.5" fill="#3D3D47"/><circle cx="13.5" cy="3" r="1.5" fill="#3D3D47"/></svg>
<svg style="left:1140px;top:508px" width="210" height="210" viewBox="1140 508 210 210"><circle cx="1244.5" cy="612.6" r="19.56" fill="none" stroke="#EFEFF2" stroke-width="1"/><circle cx="1244.5" cy="612.6" r="39.12" fill="none" stroke="#EFEFF2" stroke-width="1"/><circle cx="1244.5" cy="612.6" r="58.68" fill="none" stroke="#EFEFF2" stroke-width="1"/><circle cx="1244.5" cy="612.6" r="78.24" fill="none" stroke="#EFEFF2" stroke-width="1"/><circle cx="1244.5" cy="612.6" r="97.80" fill="none" stroke="#EFEFF2" stroke-width="1"/><line x1="1244.5" y1="612.6" x2="1244.50" y2="514.80" stroke="#EFEFF2" stroke-width="1"/><line x1="1244.5" y1="612.6" x2="1307.36" y2="537.68" stroke="#EFEFF2" stroke-width="1"/><line x1="1244.5" y1="612.6" x2="1340.81" y2="595.62" stroke="#EFEFF2" stroke-width="1"/><line x1="1244.5" y1="612.6" x2="1329.20" y2="661.50" stroke="#EFEFF2" stroke-width="1"/><line x1="1244.5" y1="612.6" x2="1277.95" y2="704.50" stroke="#EFEFF2" stroke-width="1"/><line x1="1244.5" y1="612.6" x2="1211.05" y2="704.50" stroke="#EFEFF2" stroke-width="1"/><line x1="1244.5" y1="612.6" x2="1159.80" y2="661.50" stroke="#EFEFF2" stroke-width="1"/><line x1="1244.5" y1="612.6" x2="1148.19" y2="595.62" stroke="#EFEFF2" stroke-width="1"/><line x1="1244.5" y1="612.6" x2="1181.64" y2="537.68" stroke="#EFEFF2" stroke-width="1"/><path d="M1244.5 612.6L1244.50 557.83A54.77 54.77 0 0 1 1279.70 570.65Z" fill="#66C7C1" stroke="#fff" stroke-width="2" stroke-linejoin="round"/><path d="M1244.5 612.6L1302.34 543.67A89.98 89.98 0 0 1 1333.11 596.98Z" fill="#CE99DB" stroke="#fff" stroke-width="2" stroke-linejoin="round"/><path d="M1244.5 612.6L1325.40 598.33A82.15 82.15 0 0 1 1315.65 653.68Z" fill="#FF9A68" stroke="#fff" stroke-width="2" stroke-linejoin="round"/><path d="M1244.5 612.6L1302.09 645.85A66.50 66.50 0 0 1 1267.25 675.09Z" fill="#66C7C1" stroke="#fff" stroke-width="2" stroke-linejoin="round"/><path d="M1244.5 612.6L1264.57 667.74A58.68 58.68 0 0 1 1224.43 667.74Z" fill="#CE99DB" stroke="#fff" stroke-width="2" stroke-linejoin="round"/><path d="M1244.5 612.6L1231.12 649.36A39.12 39.12 0 0 1 1210.62 632.16Z" fill="#FF9A68" stroke="#fff" stroke-width="2" stroke-linejoin="round"/><path d="M1244.5 612.6L1203.85 636.07A46.94 46.94 0 0 1 1198.27 604.45Z" fill="#66C7C1" stroke="#fff" stroke-width="2" stroke-linejoin="round"/><path d="M1244.5 612.6L1179.01 601.05A66.50 66.50 0 0 1 1201.75 561.65Z" fill="#CE99DB" stroke="#fff" stroke-width="2" stroke-linejoin="round"/><path d="M1244.5 612.6L1191.69 549.67A82.15 82.15 0 0 1 1244.50 530.45Z" fill="#FF9A68" stroke="#fff" stroke-width="2" stroke-linejoin="round"/></svg>
<span class="t" style="top:739.20px;font-size:17px;line-height:17px;color:#55555d;-webkit-text-stroke:0.35px #55555d;letter-spacing:0.52px;left:1115.50px;">Total</span>
<span class="t" style="top:761.87px;font-size:15px;line-height:15px;color:#3D3D47;-webkit-text-stroke:0.45px #3D3D47;letter-spacing:0.033px;left:1101.00px;">$ 34,4562</span>
<span class="t" style="top:739.20px;font-size:17px;line-height:17px;color:#55555d;-webkit-text-stroke:0.35px #55555d;letter-spacing:0.411px;left:1212.50px;">Monthly</span>
<span class="t" style="top:761.87px;font-size:15px;line-height:15px;color:#3D3D47;-webkit-text-stroke:0.45px #3D3D47;letter-spacing:-0.484px;left:1216.00px;">$ 12,463</span>
<span class="t" style="top:739.20px;font-size:17px;line-height:17px;color:#55555d;-webkit-text-stroke:0.35px #55555d;letter-spacing:0.301px;left:1333.00px;">Daily</span>
<span class="t" style="top:761.87px;font-size:15px;line-height:15px;color:#3D3D47;-webkit-text-stroke:0.45px #3D3D47;letter-spacing:0.622px;left:1328.00px;">$ 5000</span>
<div style="left:1189px;top:736px;width:1px;height:41px;background:repeating-linear-gradient(180deg,#cfd0d6 0 3px,transparent 3px 5px)"></div>
<div style="left:1298px;top:736px;width:1px;height:41px;background:repeating-linear-gradient(180deg,#cfd0d6 0 3px,transparent 3px 5px)"></div>
<div class="card" style="left:281px;top:825px;width:886.3px;height:200px"></div>
<span class="t" style="top:847.23px;font-size:20px;line-height:20px;color:#3D3D47;font-weight:700;letter-spacing:0.123px;left:300px;">Monthly Overview</span>
<svg style="left:1121px;top:853px" width="16" height="6" viewBox="0 0 16 6"><circle cx="2.5" cy="3" r="1.5" fill="#3D3D47"/><circle cx="8" cy="3" r="1.5" fill="#3D3D47"/><circle cx="13.5" cy="3" r="1.5" fill="#3D3D47"/></svg>
<div class="card" style="left:1191px;top:825px;width:560px;height:200px"></div>
<span class="t" style="top:847.23px;font-size:20px;line-height:20px;color:#3D3D47;font-weight:700;letter-spacing:-0.256px;left:1211px;">Task Summary</span>
<div style="left:0px;top:0px;width:1834px;height:70px;background:#fff"></div>
<svg style="left:0;top:0" width="60" height="60" viewBox="0 0 60 60">
<polygon points="25.8,15 30,17.3 16.9,25.2 23.2,28.8 36.5,21.1 38.9,22.3 38.9,24.6 19.5,36.1 25.6,39.9 38.9,32 38.9,37.5 26.2,45 13,37.9 13,34.1 19.1,30.8 13,27.6 13,22.1" fill="#43B9B2"/>
<polygon points="13,27.6 16.9,25.2 23.2,28.8 19.1,30.8" fill="#37A7A0"/>
<polygon points="13,37.9 16.6,36 19.5,36.1 25.6,39.9 22.6,42.9" fill="#37A7A0"/>
</svg>
<span class="t" style="top:17.53px;font-size:24.5px;line-height:24.5px;color:#3D3D47;-webkit-text-stroke:0.6px #3D3D47;letter-spacing:0.637px;left:45px;">Edmin</span>
<div style="left:189px;top:8px;width:45px;height:45px;background:#F4F5F9"></div>
<svg style="left:203px;top:24px" width="18" height="14" viewBox="0 0 18 14"><path d="M0 1H18M0 7H18M0 13H18" stroke="#2b2b33" stroke-width="1.8"/></svg>
<div style="left:284px;top:6px;width:595px;height:49px;background:#F4F5F9"></div>
<svg style="left:302px;top:21px" width="20" height="20" viewBox="0 0 20 20"><circle cx="9.5" cy="9.5" r="7.8" fill="none" stroke="#2b2b33" stroke-width="1.4"/><path d="M15.3 15.3L18 18" stroke="#2b2b33" stroke-width="1.2" stroke-linecap="round"/></svg>
<span class="t" style="top:23.16px;font-size:14px;line-height:14px;color:#6a6a70;-webkit-text-stroke:0.4px #6a6a70;letter-spacing:0.126px;left:337px;">Search anything...</span>
<div style="left:1327px;top:11px;width:40px;height:40px;background:#F4F5F9"></div>
<div style="left:1381px;top:11px;width:40px;height:40px;background:#F4F5F9"></div>
<div style="left:1435px;top:11px;width:40px;height:40px;background:#F4F5F9"></div>
<svg style="left:1327px;top:11px" width="150" height="40" viewBox="1327 11 150 40">
<path d="M1344.3 21.4C1338.2 23.8 1335.6 31 1338.6 36.2C1342.3 42 1352.3 42 1356.7 33.5C1350 36 1343 31 1344.3 21.4Z" fill="none" stroke="#2b2b33" stroke-width="1.4" stroke-linejoin="round"/>
<path d="M1394 32.6C1395 28.5 1395.3 22.6 1401 22.6C1406.7 22.6 1407 28.5 1408 32.6C1408.6 35.4 1406 35.6 1401 35.6C1396 35.6 1393.4 35.4 1394 32.6Z" fill="none" stroke="#2b2b33" stroke-width="1.4" stroke-linejoin="round"/>
<path d="M1398.6 38.3Q1401 40 1403.4 38.3" fill="none" stroke="#2b2b33" stroke-width="1" stroke-linecap="round" opacity=".6"/>
<rect x="1446" y="23" width="18" height="14" fill="#fff"/>
<g fill="#C4303A"><rect x="1446" y="23" width="18" height="1.1"/><rect x="1446" y="25.15" width="18" height="1.1"/><rect x="1446" y="27.3" width="18" height="1.1"/><rect x="1446" y="29.45" width="18" height="1.1"/><rect x="1446" y="31.6" width="18" height="1.1"/><rect x="1446" y="33.75" width="18" height="1.1"/><rect x="1446" y="35.9" width="18" height="1.1"/></g>
<rect x="1446" y="23" width="9.8" height="7.6" fill="#2E3B6E"/>
</svg>
<div style="left:1407px;top:7px;width:18px;height:18px;background:#C280D2;border-radius:50%"></div>
<span class="t" style="top:11.12px;font-size:10px;line-height:10px;color:#fff;font-weight:700;left:1416px;transform:translateX(-50%);">3</span>
<div style="left:0px;top:69px;width:250px;height:820px;background:linear-gradient(180deg,#090c13 0,#2A2D37 2.2px)"></div>
<div style="left:249px;top:71px;width:1px;height:818px;background:linear-gradient(180deg,#22404A 0,#22404A 375px,#1F2330 376px)"></div>
<div style="left:245px;top:71px;width:4.6px;height:375.6px;background:#2F4B52;border-radius:2.5px"></div>
<span class="t" style="top:99.67px;font-size:15px;line-height:15px;color:#43B9B2;-webkit-text-stroke:0.5px #43B9B2;letter-spacing:0.383px;left:37px;">GENERAL</span>
<div style="left:13px;top:134px;width:216px;height:41px;background:#2D3D45"></div>
<svg style="left:34px;top:145.8px;overflow:visible" width="16" height="16" viewBox="0 0 16 16" fill="none" stroke="#43B9B2" stroke-width="1.5" stroke-linecap="round" stroke-linejoin="round"><path d="M0.9 6.4L6.9 1.5Q8.05 0.6 9.2 1.5L15.2 6.4V12.2Q15.2 15.6 11.8 15.6H11.4Q10.3 15.6 10.3 14.5V13Q10.3 11.2 8.05 11.2Q5.8 11.2 5.8 13V14.5Q5.8 15.6 4.7 15.6H4.3Q0.9 15.6 0.9 12.2Z"/></svg>
<span class="t" style="top:147.14px;font-size:16.5px;line-height:16.5px;color:#43B9B2;-webkit-text-stroke:0.15px #43B9B2;letter-spacing:0.158px;left:61px;">Dashboard</span>
<div style="left:157.8px;top:144px;width:21px;height:21px;background:#43B9B2;border-radius:50%"></div>
<span class="t" style="top:150.06px;font-size:9.5px;line-height:9.5px;color:#fff;font-weight:700;left:168.3px;transform:translateX(-50%);">3</span>
<svg style="left:197px;top:149px" width="8" height="12" viewBox="0 0 8 12"><path d="M1.8 1.6L6.2 6L1.8 10.4" fill="none" stroke="#43B9B2" stroke-width="1.35" stroke-linecap="round" stroke-linejoin="round"/></svg>
<svg style="left:39px;top:196px" width="13" height="10" viewBox="0 0 13 10"><path d="M0.8 5H11.6M7.6 1L11.8 5L7.6 9" fill="none" stroke="#43B9B2" stroke-width="1.25" stroke-linecap="round" stroke-linejoin="round"/></svg>
<span class="t" style="top:190.97px;font-size:15px;line-height:15px;color:#43B9B2;-webkit-text-stroke:0.15px #43B9B2;letter-spacing:0.245px;left:68.5px;">Default</span>
<svg style="left:39px;top:225px" width="13" height="10" viewBox="0 0 13 10"><path d="M0.8 5H11.6M7.6 1L11.8 5L7.6 9" fill="none" stroke="#E8E8EA" stroke-width="1.25" stroke-linecap="round" stroke-linejoin="round"/></svg>
<span class="t" style="top:219.97px;font-size:15px;line-height:15px;color:#E8E8EA;letter-spacing:-0.254px;left:68.5px;">Ecommerce</span>
<svg style="left:39px;top:254px" width="13" height="10" viewBox="0 0 13 10"><path d="M0.8 5H11.6M7.6 1L11.8 5L7.6 9" fill="none" stroke="#E8E8EA" stroke-width="1.25" stroke-linecap="round" stroke-linejoin="round"/></svg>
<span class="t" style="top:248.97px;font-size:15px;line-height:15px;color:#E8E8EA;letter-spacing:0.052px;left:68.5px;">Project</span>
<svg style="left:33.9px;top:283.9px;overflow:visible" width="16" height="16" viewBox="0 0 16 16" fill="none" stroke="#E3E4E6" stroke-width="1.4" stroke-linecap="round" stroke-linejoin="round"><path d="M6.3 3.5A6.2 6.2 0 1 0 13.1 9.7H9.3Q6.3 9.7 6.3 6.7Z"/><path d="M8.7 0.9A6.5 6.5 0 0 1 15.5 7.3H10.2Q8.7 7.3 8.7 5.8Z" opacity=".5"/></svg>
<span class="t" style="top:285.44px;font-size:16.5px;line-height:16.5px;color:#A6A8AD;-webkit-text-stroke:0.15px #A6A8AD;letter-spacing:0.065px;left:61px;">Widgets</span>
<svg style="left:197px;top:287.5px" width="8" height="12" viewBox="0 0 8 12"><path d="M1.8 1.6L6.2 6L1.8 10.4" fill="none" stroke="#DADBDD" stroke-width="1.35" stroke-linecap="round" stroke-linejoin="round"/></svg>
<div style="left:0px;top:333px;width:245px;height:1px;background:repeating-linear-gradient(90deg,#6a6d76 0 3px,transparent 3px 6px)"></div>
<span class="t" style="top:358.67px;font-size:15px;line-height:15px;color:#43B9B2;-webkit-text-stroke:0.5px #43B9B2;letter-spacing:0.719px;left:37px;">APPLICATIONS</span>
<svg style="left:34px;top:405.0px;overflow:visible" width="16" height="16" viewBox="0 0 16 16" fill="none" stroke="#E3E4E6" stroke-width="1.3" stroke-linecap="round" stroke-linejoin="round"><circle cx="8" cy="7.8" r="7"/><path d="M8 4.3V8.6M8 11V11.1" opacity=".55"/></svg>
<span class="t" style="top:406.44px;font-size:16.5px;line-height:16.5px;color:#A6A8AD;-webkit-text-stroke:0.15px #A6A8AD;letter-spacing:0.273px;left:61px;">Project</span>
<svg style="left:197px;top:408.3px" width="8" height="12" viewBox="0 0 8 12"><path d="M1.8 1.6L6.2 6L1.8 10.4" fill="none" stroke="#DADBDD" stroke-width="1.35" stroke-linecap="round" stroke-linejoin="round"/></svg>
<svg style="left:34px;top:446.0px;overflow:visible" width="16" height="16" viewBox="0 0 16 16" fill="none" stroke="#E3E4E6" stroke-width="1.3" stroke-linecap="round" stroke-linejoin="round"><path d="M4.7 0.7H9.3L14.4 5.4V12Q14.4 14.9 11.5 14.9H4.7Q1.8 14.9 1.8 12V3.6Q1.8 0.7 4.7 0.7Z"/><path d="M9.5 0.9V3.4Q9.5 5.3 11.4 5.3H14.2" opacity=".55"/><path d="M5 7.1H8.6M5 10.6H10.6" opacity=".55"/></svg>
<span class="t" style="top:447.44px;font-size:16.5px;line-height:16.5px;color:#A6A8AD;-webkit-text-stroke:0.15px #A6A8AD;letter-spacing:-0.027px;left:61px;">File Manager</span>
<svg style="left:34px;top:487.0px;overflow:visible" width="16" height="16" viewBox="0 0 16 16" fill="none" stroke="#E3E4E6" stroke-width="1.3" stroke-linecap="round" stroke-linejoin="round"><path d="M4 4.5H12.7Q14.2 4.5 14.5 6L15.3 11.3Q15.7 15.3 12 15.3H4.7Q1 15.3 1.4 11.3L2.2 6Q2.5 4.5 4 4.5Z"/><path d="M5.6 4.4Q5.6 0.9 8.35 0.9Q11.1 0.9 11.1 4.4" opacity=".55"/><path d="M6 7.4V7.5M10.5 7.4V7.5" stroke-width="1.6"/></svg>
<span class="t" style="top:488.44px;font-size:16.5px;line-height:16.5px;color:#A6A8AD;-webkit-text-stroke:0.15px #A6A8AD;letter-spacing:-0.129px;left:61px;">Ecommerce</span>
<svg style="left:197px;top:490.3px" width="8" height="12" viewBox="0 0 8 12"><path d="M1.8 1.6L6.2 6L1.8 10.4" fill="none" stroke="#DADBDD" stroke-width="1.35" stroke-linecap="round" stroke-linejoin="round"/></svg>
<svg style="left:34px;top:528.0px;overflow:visible" width="16" height="16" viewBox="0 0 16 16" fill="none" stroke="#E3E4E6" stroke-width="1.3" stroke-linecap="round" stroke-linejoin="round"><rect x="0.55" y="1.05" width="14.2" height="12.9" rx="3.3"/><path d="M3.2 5L7.65 8.7L12.2 5" opacity=".55"/></svg>
<span class="t" style="top:529.44px;font-size:16.5px;line-height:16.5px;color:#A6A8AD;-webkit-text-stroke:0.15px #A6A8AD;letter-spacing:0.523px;left:61px;">Letter-box</span>
<svg style="left:34px;top:569.0px;overflow:visible" width="16" height="16" viewBox="0 0 16 16" fill="none" stroke="#E3E4E6" stroke-width="1.3" stroke-linecap="round" stroke-linejoin="round"><path d="M3.6 13.3A6.8 6.8 0 1 0 1.7 10.6Q2 12.6 1 14.1Q2.7 14.2 3.6 13.3Z"/><path d="M5.2 8V8.1M7.9 8V8.1M10.6 8V8.1" opacity=".55" stroke-width="1.4"/></svg>
<span class="t" style="top:570.44px;font-size:16.5px;line-height:16.5px;color:#A6A8AD;-webkit-text-stroke:0.15px #A6A8AD;letter-spacing:0.38px;left:61px;">Chat</span>
<svg style="left:197px;top:572.3px" width="8" height="12" viewBox="0 0 8 12"><path d="M1.8 1.6L6.2 6L1.8 10.4" fill="none" stroke="#DADBDD" stroke-width="1.35" stroke-linecap="round" stroke-linejoin="round"/></svg>
<svg style="left:34px;top:610.0px;overflow:visible" width="16" height="16" viewBox="0 0 16 16" fill="none" stroke="#E3E4E6" stroke-width="1.3" stroke-linecap="round" stroke-linejoin="round"><circle cx="7.9" cy="4.3" r="3" opacity=".55"/><ellipse cx="7.9" cy="12.8" rx="5.6" ry="1.9"/></svg>
<span class="t" style="top:611.44px;font-size:16.5px;line-height:16.5px;color:#A6A8AD;-webkit-text-stroke:0.15px #A6A8AD;letter-spacing:-0.523px;left:61px;">Users</span>
<svg style="left:197px;top:613.3px" width="8" height="12" viewBox="0 0 8 12"><path d="M1.8 1.6L6.2 6L1.8 10.4" fill="none" stroke="#DADBDD" stroke-width="1.35" stroke-linecap="round" stroke-linejoin="round"/></svg>
<svg style="left:34px;top:651.0px;overflow:visible" width="16" height="16" viewBox="0 0 16 16" fill="none" stroke="#E3E4E6" stroke-width="1.3" stroke-linecap="round" stroke-linejoin="round"><path d="M2.05 4.2Q2.05 1.25 5 1.25H10.9Q13.85 1.25 13.85 4.2V15.2L7.95 12.2L2.05 15.2Z"/><path d="M5 5.7H11" opacity=".55"/></svg>
<span class="t" style="top:652.44px;font-size:16.5px;line-height:16.5px;color:#A6A8AD;-webkit-text-stroke:0.15px #A6A8AD;letter-spacing:-0.066px;left:61px;">Bookmarks</span>
<svg style="left:34px;top:692.0px;overflow:visible" width="16" height="16" viewBox="0 0 16 16" fill="none" stroke="#E3E4E6" stroke-width="1.3" stroke-linecap="round" stroke-linejoin="round"><path d="M2.2 2.3Q3.6 0.6 5 2L6.2 3.6Q6.9 4.8 5.9 5.8Q5.3 6.6 6.2 7.8Q7.6 9.6 9.3 10.6Q10.3 11.2 11.1 10.5Q12.2 9.7 13.2 10.5L14.8 11.8Q15.9 13 14.5 14.3Q12.5 16 9.5 14.5Q4.5 11.8 1.9 6.5Q0.9 3.8 2.2 2.3Z"/><path d="M9.8 3.9A3 3 0 0 1 12.6 6.7M10 1.2A5.6 5.6 0 0 1 15.3 6.5" opacity=".55"/></svg>
<span class="t" style="top:693.44px;font-size:16.5px;line-height:16.5px;color:#A6A8AD;-webkit-text-stroke:0.15px #A6A8AD;letter-spacing:0.354px;left:61px;">Contact</span>
<svg style="left:34px;top:733.0px;overflow:visible" width="16" height="16" viewBox="0 0 16 16" fill="none" stroke="#E3E4E6" stroke-width="1.3" stroke-linecap="round" stroke-linejoin="round"><rect x="1.15" y="0.85" width="13.8" height="14" rx="3.5"/><path d="M5.3 8.3L7.3 10.2L11 6.3" opacity=".55"/></svg>
<span class="t" style="top:734.44px;font-size:16.5px;line-height:16.5px;color:#A6A8AD;-webkit-text-stroke:0.15px #A6A8AD;letter-spacing:-0.7px;left:61px;">Tasks</span>
<svg style="left:34px;top:774.0px;overflow:visible" width="16" height="16" viewBox="0 0 16 16" fill="none" stroke="#E3E4E6" stroke-width="1.3" stroke-linecap="round" stroke-linejoin="round"><rect x="1.4" y="2.2" width="13.3" height="13.3" rx="3"/><path d="M5 0.4V3.2M11 0.4V3.2M1.6 6.3H14.5"/><path d="M5 9.4V9.5M8 9.4V9.5M11 9.4V9.5M5 12.4V12.5M8 12.4V12.5M11 12.4V12.5" opacity=".55" stroke-width="1.5"/></svg>
<span class="t" style="top:775.44px;font-size:16.5px;line-height:16.5px;color:#A6A8AD;-webkit-text-stroke:0.15px #A6A8AD;letter-spacing:0.004px;left:61px;">Calender</span>
<svg style="left:34px;top:815.0px;overflow:visible" width="16" height="16" viewBox="0 0 16 16" fill="none" stroke="#E3E4E6" stroke-width="1.3" stroke-linecap="round" stroke-linejoin="round"><path d="M5.2 3.6L6 2.3Q6.5 1.5 7.5 1.5H8.9Q9.9 1.5 10.4 2.3L11.2 3.6H12.3Q15.5 3.6 15.5 6.8V11Q15.5 14.3 12.3 14.3H4Q0.8 14.3 0.8 11V6.8Q0.8 3.6 4 3.6Z"/><circle cx="8" cy="8.9" r="2.5" opacity=".55"/><path d="M12.5 6.4V6.5" opacity=".55"/></svg>
<span class="t" style="top:816.44px;font-size:16.5px;line-height:16.5px;color:#A6A8AD;-webkit-text-stroke:0.15px #A6A8AD;letter-spacing:-0.109px;left:61px;">Social App</span>
<svg style="left:34px;top:856.0px;overflow:visible" width="16" height="16" viewBox="0 0 16 16" fill="none" stroke="#E3E4E6" stroke-width="1.3" stroke-linecap="round" stroke-linejoin="round"><path d="M8 1.1H4.5Q1 1.1 1 4.6V11.3Q1 14.8 4.5 14.8H11.5Q15 14.8 15 11.3V8" opacity=".45"/><path d="M4.5 11.8L5.2 8.6L11.9 1.9Q12.9 0.9 13.9 1.9L14.3 2.3Q15.3 3.3 14.3 4.3L7.6 11ZM10.5 3.3L12.9 5.7"/></svg>
<span class="t" style="top:857.44px;font-size:16.5px;line-height:16.5px;color:#A6A8AD;-webkit-text-stroke:0.15px #A6A8AD;letter-spacing:0.496px;left:61px;">To-Do</span>
<div style="left:1478px;top:0px;width:356px;height:889px;background:#fff;box-shadow:0 0 38px rgba(30,35,50,.14),-1px 0 2px rgba(30,35,50,.07)"></div>
<div style="left:1478px;top:0px;width:356px;height:56px;background:#43B9B2"></div>
<span class="t" style="top:3.24px;font-size:21px;line-height:21px;color:#fff;-webkit-text-stroke:0.45px #fff;letter-spacing:-0.027px;left:1498px;">Preview Settings</span>
<span class="t" style="top:28.16px;font-size:14px;line-height:14px;color:#fff;-webkit-text-stroke:0.2px #fff;letter-spacing:0.115px;left:1498px;">Try It Real Time</span>
<svg style="left:1599px;top:27px" width="17" height="16" viewBox="1599 27 17 16"><rect x="1599.9" y="33.1" width="3.9" height="7.9" fill="#fff"/><path d="M1604.7 34.2C1605.6 33 1606.8 31.6 1607 30C1607.1 29 1607.6 28.5 1608.4 28.6C1609.5 28.8 1609.9 30 1609.6 31.4L1609.2 32.7H1612.6C1613.7 32.7 1614.3 33.6 1614 34.5C1614.3 35.1 1614.2 35.8 1613.8 36.3C1614 37 1613.8 37.7 1613.3 38.1C1613.4 38.9 1613.1 39.6 1612.5 40C1612 40.7 1611.3 41 1610.3 41H1608C1606.8 41 1605.7 40.6 1604.7 40.1Z" fill="#fff"/></svg>
<div style="left:1785.5px;top:4.5px;width:37.5px;height:37.5px;background:#fff;border-radius:50%"></div>
<svg style="left:1798.3px;top:18px" width="12" height="12" viewBox="0 0 12 12"><path d="M1.2 1.2L10.8 10.8M10.8 1.2L1.2 10.8" stroke="#43B9B2" stroke-width="2.1" stroke-linecap="round"/></svg>
<div style="left:1498px;top:84px;width:139px;height:37px;background:#43B9B2;border-radius:5px"></div>
<span class="t" style="top:95.47px;font-size:15px;line-height:15px;color:#fff;-webkit-text-stroke:0.4px #fff;letter-spacing:0.647px;left:1519.00px;">Configuration</span>
<svg style="left:1497px;top:143.3px" width="326" height="150.7" viewBox="0 0 326 150.7"><path d="M1.5 9 V142.7 a6 6 0 0 0 6 6 H318.5 a6 6 0 0 0 6 -6 V9" fill="none" stroke="#c9cad2" stroke-width="1" stroke-dasharray="3 2.5"/><path d="M1.5 9.5 V8.2 a6 6 0 0 1 6 -6 H318.5 a6 6 0 0 1 6 6 V9.5" fill="none" stroke="#43B9B2" stroke-width="2.2"/></svg>
<span class="t" style="top:156.24px;font-size:21px;line-height:21px;color:#3D3D47;-webkit-text-stroke:0.4px #3D3D47;letter-spacing:-0.058px;left:1507.5px;">Theme color mode:</span>
<span class="t" style="top:181.92px;font-size:14.5px;line-height:14.5px;color:#6c6c72;letter-spacing:0.016px;left:1507.5px;">Choose between 3 different mix layout.</span>
<svg style="left:1505px;top:205px" width="312" height="82" viewBox="1505 205 312 82"><defs><filter id="tbl"><feGaussianBlur stdDeviation="0.28"/></filter></defs><rect x="1507" y="208.2" width="98.8" height="75.6" rx="10" fill="#C8EBE9"/><clipPath id="tc1"><rect x="1512.2" y="213" width="88.7" height="65.8" rx="5"/></clipPath><g clip-path="url(#tc1)"><rect x="1512.2" y="213" width="88.7" height="65.8" fill="#F7F9FB"/><g filter="url(#tbl)"><rect x="1512.2" y="213.0" width="88.7" height="4.0" rx="0" fill="#fff" opacity="1"/><rect x="1514.2" y="214.2" width="5.0" height="1.4" rx="0.6" fill="#9aa" opacity="1"/><rect x="1526.2" y="214.0" width="27.0" height="2.0" rx="0.6" fill="#EEF1F4" opacity="1"/><rect x="1580.2" y="214.0" width="2.0" height="2.0" rx="0.6" fill="#444" opacity="1"/><rect x="1592.2" y="213.8" width="3.0" height="2.4" rx="0.6" fill="#E58" opacity="1"/><rect x="1512.2" y="217.0" width="11.5" height="62.0" rx="0" fill="#fff" opacity="1"/><rect x="1513.7" y="220.0" width="6.0" height="1.2" rx="0.5" fill="#43B9B2" opacity="0.8"/><rect x="1514.4" y="223.0" width="4.0" height="0.9" rx="0.4" fill="#b8bcc4" opacity="1"/><rect x="1514.4" y="226.6" width="7.0" height="0.9" rx="0.4" fill="#b8bcc4" opacity="1"/><rect x="1514.4" y="230.2" width="6.0" height="0.9" rx="0.4" fill="#b8bcc4" opacity="1"/><rect x="1514.4" y="233.8" width="5.0" height="0.9" rx="0.4" fill="#b8bcc4" opacity="1"/><rect x="1514.4" y="237.4" width="4.0" height="0.9" rx="0.4" fill="#b8bcc4" opacity="1"/><rect x="1514.4" y="241.0" width="7.0" height="0.9" rx="0.4" fill="#b8bcc4" opacity="1"/><rect x="1514.4" y="244.6" width="6.0" height="0.9" rx="0.4" fill="#b8bcc4" opacity="1"/><rect x="1514.4" y="248.2" width="5.0" height="0.9" rx="0.4" fill="#b8bcc4" opacity="1"/><rect x="1514.4" y="251.8" width="4.0" height="0.9" rx="0.4" fill="#b8bcc4" opacity="1"/><rect x="1514.4" y="255.4" width="7.0" height="0.9" rx="0.4" fill="#b8bcc4" opacity="1"/><rect x="1514.4" y="259.0" width="6.0" height="0.9" rx="0.4" fill="#b8bcc4" opacity="1"/><rect x="1514.4" y="262.6" width="5.0" height="0.9" rx="0.4" fill="#b8bcc4" opacity="1"/><rect x="1514.4" y="266.2" width="4.0" height="0.9" rx="0.4" fill="#b8bcc4" opacity="1"/><rect x="1514.4" y="269.8" width="7.0" height="0.9" rx="0.4" fill="#b8bcc4" opacity="1"/><rect x="1513.7" y="233.0" width="4.0" height="0.9" rx="0.4" fill="#43B9B2" opacity="1"/><rect x="1513.7" y="263.0" width="4.0" height="0.9" rx="0.4" fill="#43B9B2" opacity="1"/><rect x="1525.2" y="220.5" width="18.0" height="8.0" rx="1" fill="#fff" opacity="1"/><rect x="1526.4" y="222.5" width="5.0" height="1.6" rx="0.28" fill="#555" opacity="1"/><rect x="1526.4" y="225.8" width="6.0" height="0.8" rx="0.3" fill="#bbb" opacity="1"/><path d="M1534.2 226.5l3 -1.2l2 -.2l2.5 -3" fill="none" stroke="#43B9B2" stroke-width=".5"/><rect x="1539.7" y="221.5" width="2.0" height="1.6" rx="0.4" fill="#43B9B2" opacity="1"/><rect x="1544.4" y="220.5" width="18.0" height="8.0" rx="1" fill="#fff" opacity="1"/><rect x="1545.6" y="222.5" width="5.0" height="1.6" rx="0.28" fill="#555" opacity="1"/><rect x="1545.6" y="225.8" width="6.0" height="0.8" rx="0.3" fill="#bbb" opacity="1"/><path d="M1553.4 226.5l3 -1.2l2 -.2l2.5 -3" fill="none" stroke="#C280D2" stroke-width=".5"/><rect x="1558.9" y="221.5" width="2.0" height="1.6" rx="0.4" fill="#C280D2" opacity="1"/><rect x="1563.6" y="220.5" width="18.0" height="8.0" rx="1" fill="#fff" opacity="1"/><rect x="1564.8" y="222.5" width="5.0" height="1.6" rx="0.28" fill="#555" opacity="1"/><rect x="1564.8" y="225.8" width="6.0" height="0.8" rx="0.3" fill="#bbb" opacity="1"/><path d="M1572.6 226.5l3 -1.2l2 -.2l2.5 -3" fill="none" stroke="#FF8142" stroke-width=".5"/><rect x="1578.1" y="221.5" width="2.0" height="1.6" rx="0.4" fill="#FF8142" opacity="1"/><rect x="1582.7" y="220.5" width="17.5" height="25.0" rx="1" fill="#fff" opacity="1"/><rect x="1583.7" y="222.5" width="2.4" height="2.4" rx="0.6" fill="#8a6" opacity="1"/><rect x="1587.2" y="223.0" width="6.0" height="0.8" rx="0.24" fill="#999" opacity="1"/><rect x="1596.7" y="223.0" width="2.0" height="0.9" rx="0.3" fill="#bbb" opacity="1"/><rect x="1583.7" y="226.4" width="2.4" height="2.4" rx="0.6" fill="#543" opacity="1"/><rect x="1587.2" y="226.9" width="6.0" height="0.8" rx="0.24" fill="#999" opacity="1"/><rect x="1596.7" y="226.9" width="2.0" height="0.9" rx="0.3" fill="#bbb" opacity="1"/><rect x="1583.7" y="230.3" width="2.4" height="2.4" rx="0.6" fill="#a54" opacity="1"/><rect x="1587.2" y="230.8" width="6.0" height="0.8" rx="0.24" fill="#999" opacity="1"/><rect x="1596.7" y="230.8" width="2.0" height="0.9" rx="0.3" fill="#bbb" opacity="1"/><rect x="1583.7" y="234.2" width="2.4" height="2.4" rx="0.6" fill="#579" opacity="1"/><rect x="1587.2" y="234.7" width="6.0" height="0.8" rx="0.24" fill="#999" opacity="1"/><rect x="1596.7" y="234.7" width="2.0" height="0.9" rx="0.3" fill="#bbb" opacity="1"/><rect x="1583.7" y="238.1" width="2.4" height="2.4" rx="0.6" fill="#765" opacity="1"/><rect x="1587.2" y="238.6" width="6.0" height="0.8" rx="0.24" fill="#999" opacity="1"/><rect x="1596.7" y="238.6" width="2.0" height="0.9" rx="0.3" fill="#bbb" opacity="1"/><rect x="1583.7" y="242.0" width="2.4" height="2.4" rx="0.6" fill="#358" opacity="1"/><rect x="1587.2" y="242.5" width="6.0" height="0.8" rx="0.24" fill="#999" opacity="1"/><rect x="1596.7" y="242.5" width="2.0" height="0.9" rx="0.3" fill="#bbb" opacity="1"/><rect x="1525.2" y="229.5" width="33.0" height="16.5" rx="1" fill="#fff" opacity="1"/><rect x="1526.2" y="230.8" width="9.0" height="1.1" rx="0.28" fill="#444" opacity="1"/><rect x="1527.2" y="234.5" width="1.2" height="1.2" rx="0.6" fill="#36a" opacity="1"/><rect x="1529.7" y="234.7" width="5.0" height="0.8" rx="0.24" fill="#999" opacity="1"/><rect x="1536.2" y="234.7" width="9.0" height="0.8" rx="0.22" fill="#777" opacity="1"/><rect x="1546.2" y="234.7" width="5.0" height="0.8" rx="0.22" fill="#777" opacity="1"/><rect x="1552.7" y="234.5" width="3.2" height="1.1" rx="0.5" fill="#43B9B2" opacity="1"/><rect x="1527.2" y="237.4" width="1.2" height="1.2" rx="0.6" fill="#FF8142" opacity="1"/><rect x="1529.7" y="237.6" width="5.0" height="0.8" rx="0.24" fill="#999" opacity="1"/><rect x="1536.2" y="237.6" width="9.0" height="0.8" rx="0.22" fill="#777" opacity="1"/><rect x="1546.2" y="237.6" width="5.0" height="0.8" rx="0.22" fill="#777" opacity="1"/><rect x="1552.7" y="237.4" width="3.2" height="1.1" rx="0.5" fill="#FF8142" opacity="1"/><rect x="1527.2" y="240.3" width="1.2" height="1.2" rx="0.6" fill="#c73" opacity="1"/><rect x="1529.7" y="240.5" width="5.0" height="0.8" rx="0.24" fill="#999" opacity="1"/><rect x="1536.2" y="240.5" width="9.0" height="0.8" rx="0.22" fill="#777" opacity="1"/><rect x="1546.2" y="240.5" width="5.0" height="0.8" rx="0.22" fill="#777" opacity="1"/><rect x="1552.7" y="240.3" width="3.2" height="1.1" rx="0.5" fill="#43B9B2" opacity="1"/><rect x="1527.2" y="243.2" width="1.2" height="1.2" rx="0.6" fill="#7ad" opacity="1"/><rect x="1529.7" y="243.4" width="5.0" height="0.8" rx="0.24" fill="#999" opacity="1"/><rect x="1536.2" y="243.4" width="9.0" height="0.8" rx="0.22" fill="#777" opacity="1"/><rect x="1546.2" y="243.4" width="5.0" height="0.8" rx="0.22" fill="#777" opacity="1"/><rect x="1552.7" y="243.2" width="3.2" height="1.1" rx="0.5" fill="#FF8142" opacity="1"/><rect x="1559.4" y="229.5" width="22.0" height="16.5" rx="1" fill="#fff" opacity="1"/><rect x="1560.4" y="230.8" width="8.0" height="1.1" rx="0.28" fill="#444" opacity="1"/><rect x="1560.8" y="233.6" width="8.5" height="2.4" rx="0.6" fill="#EEF1F4" opacity="1"/><rect x="1560.8" y="237.6" width="8.5" height="2.4" rx="0.6" fill="#EEF1F4" opacity="1"/><rect x="1560.8" y="241.6" width="8.5" height="2.4" rx="0.6" fill="#EEF1F4" opacity="1"/><circle cx="1575.0" cy="239.2" r="4.2" fill="none" stroke="#D9EEF0" stroke-width="1"/><path d="M1571.0 240.5a4.2 4.2 0 0 0 8 0" fill="none" stroke="#FF8142" stroke-width=".9"/><path d="M1571.5 237.0a4.2 4.2 0 0 1 6.5 -1" fill="none" stroke="#43B9B2" stroke-width=".9"/><rect x="1525.2" y="247.5" width="37.0" height="17.5" rx="1" fill="#fff" opacity="1"/><rect x="1526.2" y="248.6" width="7.0" height="1.0" rx="0.25" fill="#444" opacity="1"/><path d="M1527.7 260.0l5 -4l5.5 4.2l7 -7.5l7.5 8l4.5 -4l2 2.5" fill="none" stroke="#43B9B2" stroke-width=".55" opacity=".8"/><path d="M1527.7 258.0l6 2l6 -3l6 3l7 -2l6 2" fill="none" stroke="#C280D2" stroke-width=".3" opacity=".5"/><rect x="1527.2" y="263.0" width="1.2" height="0.6" rx="0.2" fill="#bbb" opacity="1"/><rect x="1530.6" y="263.0" width="1.2" height="0.6" rx="0.2" fill="#bbb" opacity="1"/><rect x="1534.0" y="263.0" width="1.2" height="0.6" rx="0.2" fill="#bbb" opacity="1"/><rect x="1537.4" y="263.0" width="1.2" height="0.6" rx="0.2" fill="#bbb" opacity="1"/><rect x="1540.8" y="263.0" width="1.2" height="0.6" rx="0.2" fill="#bbb" opacity="1"/><rect x="1544.2" y="263.0" width="1.2" height="0.6" rx="0.2" fill="#bbb" opacity="1"/><rect x="1547.6" y="263.0" width="1.2" height="0.6" rx="0.2" fill="#bbb" opacity="1"/><rect x="1551.0" y="263.0" width="1.2" height="0.6" rx="0.2" fill="#bbb" opacity="1"/><rect x="1554.4" y="263.0" width="1.2" height="0.6" rx="0.2" fill="#bbb" opacity="1"/><rect x="1557.8" y="263.0" width="1.2" height="0.6" rx="0.2" fill="#bbb" opacity="1"/><rect x="1563.2" y="247.5" width="18.2" height="17.5" rx="1" fill="#fff" opacity="1"/><rect x="1564.2" y="248.6" width="6.0" height="1.0" rx="0.25" fill="#444" opacity="1"/><rect x="1569.8" y="251.6" width="4.8" height="7.4" rx="1.6" fill="#1F2A44" opacity="1"/><rect x="1570.6" y="250.6" width="3.2" height="9.4" rx="1" fill="#2C3B60" opacity="1"/><rect x="1570.6" y="253.0" width="3.2" height="4.2" rx="0.8" fill="#0E1220" opacity="1"/><rect x="1578.2" y="251.0" width="2.0" height="2.0" rx="0.4" fill="#43B9B2" opacity="1"/><rect x="1567.2" y="262.6" width="10.0" height="0.8" rx="0.3" fill="#888" opacity="1"/><rect x="1582.7" y="247.5" width="17.5" height="17.5" rx="1" fill="#fff" opacity="1"/><rect x="1583.7" y="248.6" width="6.0" height="1.0" rx="0.25" fill="#444" opacity="1"/><rect x="1583.5" y="251.0" width="15.8" height="3.6" rx="0.6" fill="#43B9B2" opacity="0.22"/><rect x="1586.2" y="252.0" width="7.0" height="0.8" rx="0.3" fill="#43B9B2" opacity="0.7"/><rect x="1583.5" y="255.6" width="15.8" height="3.6" rx="0.6" fill="#C280D2" opacity="0.22"/><rect x="1586.2" y="256.6" width="7.0" height="0.8" rx="0.3" fill="#C280D2" opacity="0.7"/><rect x="1583.5" y="260.2" width="15.8" height="3.6" rx="0.6" fill="#FF8142" opacity="0.22"/><rect x="1586.2" y="261.2" width="7.0" height="0.8" rx="0.3" fill="#FF8142" opacity="0.7"/><rect x="1525.2" y="267.0" width="24.0" height="14.0" rx="1" fill="#fff" opacity="1"/><rect x="1550.4" y="267.0" width="11.5" height="14.0" rx="1" fill="#fff" opacity="1"/><rect x="1562.8" y="267.0" width="11.5" height="14.0" rx="1" fill="#fff" opacity="1"/><rect x="1575.2" y="267.0" width="25.0" height="14.0" rx="1" fill="#fff" opacity="1"/><rect x="1526.2" y="268.2" width="6.0" height="1.0" rx="0.25" fill="#444" opacity="1"/><rect x="1551.2" y="268.2" width="5.0" height="1.0" rx="0.25" fill="#444" opacity="1"/><rect x="1563.7" y="268.2" width="6.0" height="1.0" rx="0.25" fill="#444" opacity="1"/><rect x="1576.2" y="268.2" width="7.0" height="1.0" rx="0.25" fill="#444" opacity="1"/><rect x="1526.2" y="271.6" width="2.2" height="1.4" rx="0.3" fill="#E67" opacity="1"/><rect x="1529.7" y="271.9" width="12.0" height="0.7" rx="0.2" fill="#999" opacity="1"/><rect x="1544.7" y="271.6" width="3.0" height="1.1" rx="0.4" fill="#43B9B2" opacity="1"/><rect x="1526.2" y="275.0" width="2.2" height="1.4" rx="0.3" fill="#c44" opacity="1"/><rect x="1529.7" y="275.3" width="12.0" height="0.7" rx="0.2" fill="#999" opacity="1"/><rect x="1544.7" y="275.0" width="3.0" height="1.1" rx="0.4" fill="#FF8142" opacity="1"/><rect x="1526.2" y="278.4" width="2.2" height="1.4" rx="0.3" fill="#aa4" opacity="1"/><rect x="1529.7" y="278.7" width="12.0" height="0.7" rx="0.2" fill="#999" opacity="1"/><rect x="1544.7" y="278.4" width="3.0" height="1.1" rx="0.4" fill="#43B9B2" opacity="1"/><rect x="1576.7" y="272.0" width="4.0" height="0.7" rx="0.2" fill="#999" opacity="1"/><rect x="1583.2" y="272.0" width="3.0" height="0.7" rx="0.2" fill="#999" opacity="1"/><rect x="1588.2" y="272.0" width="3.0" height="0.7" rx="0.2" fill="#999" opacity="1"/><rect x="1593.2" y="271.8" width="4.0" height="1.0" rx="0.4" fill="#43B9B2" opacity="0.7"/><rect x="1576.7" y="274.4" width="4.0" height="0.7" rx="0.2" fill="#999" opacity="1"/><rect x="1583.2" y="274.4" width="3.0" height="0.7" rx="0.2" fill="#999" opacity="1"/><rect x="1588.2" y="274.4" width="3.0" height="0.7" rx="0.2" fill="#999" opacity="1"/><rect x="1593.2" y="274.2" width="4.0" height="1.0" rx="0.4" fill="#C280D2" opacity="0.7"/><rect x="1576.7" y="276.8" width="4.0" height="0.7" rx="0.2" fill="#999" opacity="1"/><rect x="1583.2" y="276.8" width="3.0" height="0.7" rx="0.2" fill="#999" opacity="1"/><rect x="1588.2" y="276.8" width="3.0" height="0.7" rx="0.2" fill="#999" opacity="1"/><rect x="1593.2" y="276.6" width="4.0" height="1.0" rx="0.4" fill="#FF8142" opacity="0.7"/><rect x="1576.7" y="279.2" width="4.0" height="0.7" rx="0.2" fill="#999" opacity="1"/><rect x="1583.2" y="279.2" width="3.0" height="0.7" rx="0.2" fill="#999" opacity="1"/><rect x="1588.2" y="279.2" width="3.0" height="0.7" rx="0.2" fill="#999" opacity="1"/><rect x="1593.2" y="279.0" width="4.0" height="1.0" rx="0.4" fill="#43B9B2" opacity="0.7"/></g></g><rect x="1610" y="208.2" width="99" height="75.6" rx="10" fill="#C8EBE9"/><clipPath id="tc2"><rect x="1615.2" y="213" width="90" height="65.8" rx="5"/></clipPath><g clip-path="url(#tc2)"><rect x="1615.2" y="213" width="90" height="65.8" fill="#1F2229"/><g filter="url(#tbl)"><rect x="1615.2" y="213.0" width="90.0" height="4.0" rx="0" fill="#262A33" opacity="1"/><rect x="1617.2" y="214.2" width="5.0" height="1.4" rx="0.6" fill="#889" opacity="1"/><rect x="1628.2" y="214.2" width="10.0" height="1.2" rx="0.6" fill="#555b66" opacity="1"/><rect x="1693.2" y="213.8" width="3.0" height="2.4" rx="0.6" fill="#E8A" opacity="1"/><rect x="1615.2" y="217.0" width="11.5" height="42.0" rx="0" fill="#262A33" opacity="1"/><rect x="1615.2" y="259.0" width="11.5" height="20.0" rx="0" fill="#1E2129" opacity="1"/><rect x="1616.7" y="220.0" width="6.0" height="1.2" rx="0.5" fill="#43B9B2" opacity="0.8"/><rect x="1617.4" y="223.0" width="4.0" height="0.9" rx="0.4" fill="#6b7280" opacity="1"/><rect x="1617.4" y="226.2" width="7.0" height="0.9" rx="0.4" fill="#6b7280" opacity="1"/><rect x="1617.4" y="229.4" width="6.0" height="0.9" rx="0.4" fill="#6b7280" opacity="1"/><rect x="1617.4" y="232.6" width="5.0" height="0.9" rx="0.4" fill="#6b7280" opacity="1"/><rect x="1617.4" y="235.8" width="4.0" height="0.9" rx="0.4" fill="#6b7280" opacity="1"/><rect x="1617.4" y="239.0" width="7.0" height="0.9" rx="0.4" fill="#6b7280" opacity="1"/><rect x="1617.4" y="242.2" width="6.0" height="0.9" rx="0.4" fill="#6b7280" opacity="1"/><rect x="1617.4" y="245.4" width="5.0" height="0.9" rx="0.4" fill="#6b7280" opacity="1"/><rect x="1617.4" y="248.6" width="4.0" height="0.9" rx="0.4" fill="#6b7280" opacity="1"/><rect x="1617.4" y="251.8" width="7.0" height="0.9" rx="0.4" fill="#6b7280" opacity="1"/><rect x="1617.4" y="255.0" width="6.0" height="0.9" rx="0.4" fill="#6b7280" opacity="1"/><rect x="1616.7" y="233.0" width="4.0" height="0.9" rx="0.4" fill="#43B9B2" opacity="1"/><rect x="1628.0" y="218.0" width="9.0" height="1.0" rx="0.4" fill="#cfd3da" opacity="1"/><rect x="1628.2" y="220.5" width="24.5" height="12.5" rx="1" fill="#2B2F3A" opacity="1"/><rect x="1629.4" y="222.0" width="11.0" height="1.3" rx="0.4" fill="#fff" opacity="1"/><rect x="1629.4" y="224.5" width="7.0" height="0.7" rx="0.3" fill="#9aa" opacity="1"/><rect x="1629.4" y="226.0" width="6.0" height="0.7" rx="0.3" fill="#9aa" opacity="1"/><rect x="1629.4" y="230.2" width="5.5" height="1.8" rx="0.5" fill="#43B9B2" opacity="1"/><ellipse cx="1643.2" cy="228.0" rx="6" ry="4" fill="#C280D2" opacity=".25"/><rect x="1641.7" y="223.5" width="6.5" height="5.5" rx="0.4" fill="#43B9B2" opacity="1"/><rect x="1646.2" y="223.0" width="5.0" height="1.2" rx="0.3" fill="#C280D2" opacity="1"/><path d="M1645.2 226.5q3 -1 5 2l1.5 3.5h-6z" fill="#fff"/><rect x="1641.4" y="229.0" width="2.0" height="2.0" rx="0.2" fill="#111" opacity="1"/><rect x="1653.7" y="220.5" width="17.5" height="12.5" rx="1" fill="#2B2F3A" opacity="1"/><rect x="1654.7" y="221.8" width="7.0" height="1.0" rx="0.4" fill="#ddd" opacity="1"/><rect x="1654.7" y="225.0" width="5.0" height="0.8" rx="0.3" fill="#43B9B2" opacity="1"/><rect x="1662.2" y="225.0" width="6.0" height="0.7" rx="0.3" fill="#889" opacity="1"/><rect x="1654.7" y="226.8" width="5.0" height="0.8" rx="0.3" fill="#C280D2" opacity="1"/><rect x="1662.2" y="226.8" width="6.0" height="0.7" rx="0.3" fill="#889" opacity="1"/><rect x="1654.7" y="228.6" width="5.0" height="0.8" rx="0.3" fill="#FF8142" opacity="1"/><rect x="1662.2" y="228.6" width="6.0" height="0.7" rx="0.3" fill="#889" opacity="1"/><rect x="1654.7" y="230.5" width="15.5" height="1.6" rx="0.4" fill="#343945" opacity="1"/><rect x="1672.2" y="220.5" width="11.5" height="5.8" rx="1" fill="#2B2F3A" opacity="1"/><rect x="1672.2" y="227.2" width="11.5" height="5.8" rx="1" fill="#2B2F3A" opacity="1"/><path d="M1676.2 224.0h1.5v1.5h1.5v-3h2v2h1.5" fill="none" stroke="#43B9B2" stroke-width=".4"/><rect x="1676.2" y="230.3" width="0.5" height="1.5" rx="0.2" fill="#C280D2" opacity="1"/><rect x="1677.3" y="229.3" width="0.5" height="2.5" rx="0.2" fill="#C280D2" opacity="1"/><rect x="1678.4" y="230.6" width="0.5" height="1.2" rx="0.2" fill="#C280D2" opacity="1"/><rect x="1679.5" y="230.0" width="0.5" height="1.8" rx="0.2" fill="#C280D2" opacity="1"/><rect x="1680.6" y="230.8" width="0.5" height="1.0" rx="0.2" fill="#C280D2" opacity="1"/><rect x="1681.7" y="231.0" width="0.5" height="0.8" rx="0.2" fill="#C280D2" opacity="1"/><rect x="1684.7" y="220.5" width="19.0" height="12.5" rx="1" fill="#2B2F3A" opacity="1"/><rect x="1685.7" y="221.6" width="5.0" height="1.0" rx="0.4" fill="#ddd" opacity="1"/><rect x="1686.7" y="227.5" width="0.7" height="4.0" rx="0.2" fill="#43B9B2" opacity="1"/><rect x="1687.9" y="224.5" width="0.7" height="7.0" rx="0.2" fill="#43B9B2" opacity="1"/><rect x="1689.0" y="228.5" width="0.7" height="3.0" rx="0.2" fill="#43B9B2" opacity="1"/><rect x="1690.2" y="226.5" width="0.7" height="5.0" rx="0.2" fill="#43B9B2" opacity="1"/><rect x="1691.3" y="225.0" width="0.7" height="6.5" rx="0.2" fill="#43B9B2" opacity="1"/><rect x="1692.5" y="227.5" width="0.7" height="4.0" rx="0.2" fill="#43B9B2" opacity="1"/><rect x="1693.6" y="226.0" width="0.7" height="5.5" rx="0.2" fill="#43B9B2" opacity="1"/><rect x="1694.8" y="228.5" width="0.7" height="3.0" rx="0.2" fill="#43B9B2" opacity="1"/><rect x="1695.9" y="224.5" width="0.7" height="7.0" rx="0.2" fill="#43B9B2" opacity="1"/><rect x="1697.0" y="227.0" width="0.7" height="4.5" rx="0.2" fill="#43B9B2" opacity="1"/><rect x="1698.2" y="225.5" width="0.7" height="6.0" rx="0.2" fill="#43B9B2" opacity="1"/><rect x="1699.4" y="228.0" width="0.7" height="3.5" rx="0.2" fill="#43B9B2" opacity="1"/><rect x="1700.5" y="226.5" width="0.7" height="5.0" rx="0.2" fill="#43B9B2" opacity="1"/><rect x="1701.7" y="225.0" width="0.7" height="6.5" rx="0.2" fill="#43B9B2" opacity="1"/><rect x="1628.2" y="234.2" width="37.0" height="15.0" rx="1" fill="#2B2F3A" opacity="1"/><rect x="1629.2" y="235.3" width="7.0" height="1.0" rx="0.4" fill="#ddd" opacity="1"/><rect x="1630.7" y="239.0" width="2.2" height="0.8" rx="0.3" fill="#889" opacity="1"/><rect x="1635.0" y="238.5" width="2.0" height="1.8" rx="0.4" fill="#E9A" opacity="1"/><rect x="1637.7" y="239.0" width="5.0" height="0.8" rx="0.3" fill="#aab" opacity="1"/><rect x="1645.2" y="239.0" width="3.5" height="0.8" rx="0.3" fill="#aab" opacity="1"/><rect x="1650.2" y="239.0" width="3.5" height="0.8" rx="0.3" fill="#aab" opacity="1"/><rect x="1655.2" y="239.0" width="3.0" height="0.8" rx="0.3" fill="#aab" opacity="1"/><rect x="1660.0" y="238.7" width="3.5" height="1.4" rx="0.5" fill="#43B9B2" opacity="0.6"/><rect x="1630.7" y="241.7" width="2.2" height="0.8" rx="0.3" fill="#889" opacity="1"/><rect x="1635.0" y="241.2" width="2.0" height="1.8" rx="0.4" fill="#67a" opacity="1"/><rect x="1637.7" y="241.7" width="5.0" height="0.8" rx="0.3" fill="#aab" opacity="1"/><rect x="1645.2" y="241.7" width="3.5" height="0.8" rx="0.3" fill="#aab" opacity="1"/><rect x="1650.2" y="241.7" width="3.5" height="0.8" rx="0.3" fill="#aab" opacity="1"/><rect x="1655.2" y="241.7" width="3.0" height="0.8" rx="0.3" fill="#aab" opacity="1"/><rect x="1660.0" y="241.4" width="3.5" height="1.4" rx="0.5" fill="#FF8142" opacity="0.6"/><rect x="1630.7" y="244.4" width="2.2" height="0.8" rx="0.3" fill="#889" opacity="1"/><rect x="1635.0" y="243.9" width="2.0" height="1.8" rx="0.4" fill="#7bd" opacity="1"/><rect x="1637.7" y="244.4" width="5.0" height="0.8" rx="0.3" fill="#aab" opacity="1"/><rect x="1645.2" y="244.4" width="3.5" height="0.8" rx="0.3" fill="#aab" opacity="1"/><rect x="1650.2" y="244.4" width="3.5" height="0.8" rx="0.3" fill="#aab" opacity="1"/><rect x="1655.2" y="244.4" width="3.0" height="0.8" rx="0.3" fill="#aab" opacity="1"/><rect x="1660.0" y="244.1" width="3.5" height="1.4" rx="0.5" fill="#43B9B2" opacity="0.6"/><rect x="1630.7" y="247.1" width="2.2" height="0.8" rx="0.3" fill="#889" opacity="1"/><rect x="1635.0" y="246.6" width="2.0" height="1.8" rx="0.4" fill="#dca" opacity="1"/><rect x="1637.7" y="247.1" width="5.0" height="0.8" rx="0.3" fill="#aab" opacity="1"/><rect x="1645.2" y="247.1" width="3.5" height="0.8" rx="0.3" fill="#aab" opacity="1"/><rect x="1650.2" y="247.1" width="3.5" height="0.8" rx="0.3" fill="#aab" opacity="1"/><rect x="1655.2" y="247.1" width="3.0" height="0.8" rx="0.3" fill="#aab" opacity="1"/><rect x="1660.0" y="246.8" width="3.5" height="1.4" rx="0.5" fill="#a33" opacity="0.6"/><rect x="1666.2" y="234.2" width="17.5" height="15.0" rx="1" fill="#2B2F3A" opacity="1"/><rect x="1667.2" y="235.3" width="7.0" height="1.0" rx="0.4" fill="#ddd" opacity="1"/><circle cx="1675.2" cy="241.5" r="4.2" fill="none" stroke="#3a3f4b" stroke-width=".3"/><path d="M1675.2 241.5l-2.5 -3.2a4 4 0 0 1 2.5 -.8z" fill="#FF8142"/><path d="M1675.2 241.5l0 -2.4a2.4 2.4 0 0 1 1.6 .6z" fill="#43B9B2"/><path d="M1675.2 241.5l2.6 -3a4 4 0 0 1 1.3 2.2z" fill="#C280D2"/><path d="M1675.2 241.5l3.7 -.7a3.8 3.8 0 0 1 -.6 2.7z" fill="#FF8142"/><path d="M1675.2 241.5l2.7 1.7a3 3 0 0 1 -1.7 1.2z" fill="#43B9B2"/><path d="M1675.2 241.5l.9 2.6a2.8 2.8 0 0 1 -1.9 0z" fill="#C280D2"/><path d="M1675.2 241.5l-2.2 -.3a2.2 2.2 0 0 0 .6 1.5z" fill="#43B9B2"/><path d="M1675.2 241.5l-3 -.6a3.2 3.2 0 0 1 .9 -2.3z" fill="#C280D2"/><rect x="1684.7" y="234.2" width="19.0" height="15.0" rx="1" fill="#2B2F3A" opacity="1"/><rect x="1685.7" y="235.3" width="5.0" height="1.0" rx="0.4" fill="#ddd" opacity="1"/><rect x="1685.7" y="237.5" width="0.5" height="1.6" rx="0.2" fill="#43B9B2" opacity="1"/><rect x="1687.2" y="237.6" width="9.0" height="0.7" rx="0.3" fill="#ccd" opacity="1"/><rect x="1687.2" y="238.6" width="6.0" height="0.5" rx="0.2" fill="#889" opacity="1"/><rect x="1685.7" y="239.8" width="0.5" height="1.6" rx="0.2" fill="#C280D2" opacity="1"/><rect x="1687.2" y="239.9" width="12.0" height="0.7" rx="0.3" fill="#ccd" opacity="1"/><rect x="1687.2" y="240.9" width="6.0" height="0.5" rx="0.2" fill="#889" opacity="1"/><rect x="1685.7" y="242.1" width="0.5" height="1.6" rx="0.2" fill="#FF8142" opacity="1"/><rect x="1687.2" y="242.2" width="9.0" height="0.7" rx="0.3" fill="#ccd" opacity="1"/><rect x="1687.2" y="243.2" width="6.0" height="0.5" rx="0.2" fill="#889" opacity="1"/><rect x="1685.7" y="244.4" width="0.5" height="1.6" rx="0.2" fill="#43B9B2" opacity="1"/><rect x="1687.2" y="244.5" width="12.0" height="0.7" rx="0.3" fill="#ccd" opacity="1"/><rect x="1687.2" y="245.5" width="6.0" height="0.5" rx="0.2" fill="#889" opacity="1"/><rect x="1685.7" y="246.7" width="0.5" height="1.6" rx="0.2" fill="#C280D2" opacity="1"/><rect x="1687.2" y="246.8" width="9.0" height="0.7" rx="0.3" fill="#ccd" opacity="1"/><rect x="1687.2" y="247.8" width="6.0" height="0.5" rx="0.2" fill="#889" opacity="1"/><rect x="1628.2" y="250.5" width="42.5" height="17.5" rx="1" fill="#2B2F3A" opacity="1"/><rect x="1629.2" y="251.6" width="8.0" height="1.0" rx="0.4" fill="#ddd" opacity="1"/><rect x="1631.7" y="260.5" width="0.8" height="2.0" rx="0.1" fill="#FF8142" opacity="1"/><rect x="1633.5" y="257.0" width="0.8" height="3.5" rx="0.1" fill="#43B9B2" opacity="1"/><rect x="1635.2" y="259.0" width="0.8" height="1.5" rx="0.1" fill="#FF8142" opacity="1"/><rect x="1637.0" y="256.5" width="0.8" height="4.0" rx="0.1" fill="#43B9B2" opacity="1"/><rect x="1638.7" y="260.5" width="0.8" height="2.5" rx="0.1" fill="#C280D2" opacity="1"/><rect x="1640.5" y="260.5" width="0.8" height="1.5" rx="0.1" fill="#FF8142" opacity="1"/><rect x="1642.2" y="260.5" width="0.8" height="3.5" rx="0.1" fill="#43B9B2" opacity="1"/><rect x="1644.0" y="259.5" width="0.8" height="1.0" rx="0.1" fill="#FF8142" opacity="1"/><rect x="1645.7" y="260.5" width="0.8" height="4.0" rx="0.1" fill="#43B9B2" opacity="1"/><rect x="1647.5" y="258.5" width="0.8" height="2.0" rx="0.1" fill="#C280D2" opacity="1"/><rect x="1649.2" y="260.5" width="0.8" height="3.0" rx="0.1" fill="#43B9B2" opacity="1"/><rect x="1651.0" y="259.5" width="0.8" height="1.0" rx="0.1" fill="#FF8142" opacity="1"/><rect x="1652.7" y="256.5" width="0.8" height="4.0" rx="0.1" fill="#43B9B2" opacity="1"/><rect x="1654.5" y="258.5" width="0.8" height="2.0" rx="0.1" fill="#C280D2" opacity="1"/><rect x="1656.2" y="257.0" width="0.8" height="3.5" rx="0.1" fill="#43B9B2" opacity="1"/><rect x="1658.0" y="260.5" width="0.8" height="1.5" rx="0.1" fill="#FF8142" opacity="1"/><rect x="1659.7" y="260.5" width="0.8" height="2.0" rx="0.1" fill="#C280D2" opacity="1"/><rect x="1661.5" y="260.5" width="0.8" height="3.5" rx="0.1" fill="#43B9B2" opacity="1"/><rect x="1663.2" y="259.0" width="0.8" height="1.5" rx="0.1" fill="#FF8142" opacity="1"/><rect x="1665.0" y="260.5" width="0.8" height="1.5" rx="0.1" fill="#C280D2" opacity="1"/><rect x="1631.7" y="265.5" width="1.0" height="0.5" rx="0.2" fill="#667" opacity="1"/><rect x="1634.7" y="265.5" width="1.0" height="0.5" rx="0.2" fill="#667" opacity="1"/><rect x="1637.7" y="265.5" width="1.0" height="0.5" rx="0.2" fill="#667" opacity="1"/><rect x="1640.7" y="265.5" width="1.0" height="0.5" rx="0.2" fill="#667" opacity="1"/><rect x="1643.7" y="265.5" width="1.0" height="0.5" rx="0.2" fill="#667" opacity="1"/><rect x="1646.7" y="265.5" width="1.0" height="0.5" rx="0.2" fill="#667" opacity="1"/><rect x="1649.7" y="265.5" width="1.0" height="0.5" rx="0.2" fill="#667" opacity="1"/><rect x="1652.7" y="265.5" width="1.0" height="0.5" rx="0.2" fill="#667" opacity="1"/><rect x="1655.7" y="265.5" width="1.0" height="0.5" rx="0.2" fill="#667" opacity="1"/><rect x="1658.7" y="265.5" width="1.0" height="0.5" rx="0.2" fill="#667" opacity="1"/><rect x="1661.7" y="265.5" width="1.0" height="0.5" rx="0.2" fill="#667" opacity="1"/><rect x="1664.7" y="265.5" width="1.0" height="0.5" rx="0.2" fill="#667" opacity="1"/><rect x="1671.7" y="250.5" width="32.0" height="17.5" rx="1" fill="#2B2F3A" opacity="1"/><rect x="1672.7" y="251.6" width="6.0" height="1.0" rx="0.4" fill="#ddd" opacity="1"/><rect x="1672.7" y="255.0" width="4.5" height="6.0" rx="0.4" fill="#1f5a58" opacity="1"/><rect x="1678.7" y="255.0" width="4.5" height="6.0" rx="0.4" fill="#4a3560" opacity="1"/><rect x="1684.7" y="255.0" width="4.5" height="6.0" rx="0.4" fill="#6b3a22" opacity="1"/><rect x="1672.7" y="263.0" width="14.0" height="0.6" rx="0.2" fill="#aab" opacity="1"/><rect x="1692.7" y="255.5" width="6.0" height="4.0" rx="0.4" fill="#dde" opacity="0.85"/><rect x="1628.2" y="269.2" width="24.5" height="12.0" rx="1" fill="#2B2F3A" opacity="1"/><rect x="1653.7" y="269.2" width="17.0" height="12.0" rx="1" fill="#2B2F3A" opacity="1"/><rect x="1671.7" y="266.0" width="11.0" height="8.0" rx="1" fill="#2B2F3A" opacity="1"/><rect x="1671.7" y="274.5" width="11.0" height="8.0" rx="1" fill="#2B2F3A" opacity="1"/><rect x="1684.7" y="266.0" width="19.0" height="14.0" rx="1" fill="#2B2F3A" opacity="1"/><rect x="1629.2" y="270.4" width="9.0" height="1.0" rx="0.4" fill="#ddd" opacity="1"/><rect x="1654.7" y="270.4" width="6.0" height="1.0" rx="0.4" fill="#ddd" opacity="1"/><rect x="1685.7" y="267.2" width="7.0" height="1.0" rx="0.4" fill="#ddd" opacity="1"/><rect x="1629.2" y="274.0" width="3.0" height="2.0" rx="0.3" fill="#ccd" opacity="1"/><rect x="1633.2" y="274.5" width="8.0" height="0.8" rx="0.3" fill="#99a" opacity="1"/><rect x="1647.2" y="274.0" width="3.5" height="1.6" rx="0.4" fill="#43B9B2" opacity="0.6"/><rect x="1654.7" y="274.0" width="2.2" height="2.4" rx="0.3" fill="#43B9B2" opacity="1"/><rect x="1658.2" y="274.4" width="1.0" height="1.6" rx="0.2" fill="#556" opacity="1"/><rect x="1660.6" y="274.4" width="1.0" height="1.6" rx="0.2" fill="#556" opacity="1"/><rect x="1663.0" y="274.4" width="1.0" height="1.6" rx="0.2" fill="#556" opacity="1"/><rect x="1665.4" y="274.4" width="1.0" height="1.6" rx="0.2" fill="#556" opacity="1"/><rect x="1667.8" y="274.4" width="1.0" height="1.6" rx="0.2" fill="#556" opacity="1"/><rect x="1673.2" y="269.0" width="2.0" height="1.6" rx="0.3" fill="#99a" opacity="1"/><rect x="1678.2" y="269.0" width="2.0" height="1.6" rx="0.3" fill="#99a" opacity="1"/><rect x="1672.7" y="272.5" width="9.0" height="0.5" rx="0.2" fill="#43B9B2" opacity="0.6"/><rect x="1685.5" y="269.6" width="2.0" height="2.0" rx="1" fill="#FF8142" opacity="1"/><rect x="1688.7" y="270.0" width="10.0" height="0.8" rx="0.3" fill="#ccd" opacity="1"/><rect x="1685.5" y="273.2" width="2.0" height="2.0" rx="1" fill="#C280D2" opacity="1"/><rect x="1688.7" y="273.6" width="10.0" height="0.8" rx="0.3" fill="#ccd" opacity="1"/><rect x="1685.5" y="276.8" width="2.0" height="2.0" rx="1" fill="#dca" opacity="1"/><rect x="1688.7" y="277.2" width="10.0" height="0.8" rx="0.3" fill="#ccd" opacity="1"/></g></g><rect x="1714" y="208.2" width="99" height="75.6" rx="10" fill="#C8EBE9"/><clipPath id="tc3"><rect x="1719.2" y="212.4" width="88.7" height="66.6" rx="5"/></clipPath><g clip-path="url(#tc3)"><rect x="1719.2" y="212.4" width="88.7" height="66.6" fill="#F7F9FB"/><g filter="url(#tbl)"><rect x="1719.2" y="212.4" width="90.0" height="4.0" rx="0" fill="#fff" opacity="1"/><rect x="1721.2" y="213.6" width="5.0" height="1.4" rx="0.6" fill="#9aa" opacity="1"/><rect x="1732.2" y="213.4" width="27.0" height="2.0" rx="0.6" fill="#EEF1F4" opacity="1"/><rect x="1785.2" y="213.4" width="2.0" height="2.0" rx="0.6" fill="#444" opacity="1"/><rect x="1797.2" y="213.2" width="3.0" height="2.4" rx="0.6" fill="#E58" opacity="1"/><rect x="1719.2" y="216.4" width="11.8" height="63.0" rx="0" fill="#262A33" opacity="1"/><rect x="1720.7" y="218.4" width="5.0" height="1.0" rx="0.4" fill="#43B9B2" opacity="0.8"/><rect x="1721.4" y="220.9" width="4.0" height="0.8" rx="0.3" fill="#7b8290" opacity="1"/><rect x="1721.4" y="224.2" width="7.0" height="0.8" rx="0.3" fill="#7b8290" opacity="1"/><rect x="1721.4" y="227.5" width="6.0" height="0.8" rx="0.3" fill="#7b8290" opacity="1"/><rect x="1721.4" y="230.8" width="5.0" height="0.8" rx="0.3" fill="#7b8290" opacity="1"/><rect x="1721.4" y="234.1" width="4.0" height="0.8" rx="0.3" fill="#7b8290" opacity="1"/><rect x="1721.4" y="237.4" width="7.0" height="0.8" rx="0.3" fill="#7b8290" opacity="1"/><rect x="1721.4" y="240.7" width="6.0" height="0.8" rx="0.3" fill="#7b8290" opacity="1"/><rect x="1721.4" y="244.0" width="5.0" height="0.8" rx="0.3" fill="#7b8290" opacity="1"/><rect x="1721.4" y="247.3" width="4.0" height="0.8" rx="0.3" fill="#7b8290" opacity="1"/><rect x="1721.4" y="250.6" width="7.0" height="0.8" rx="0.3" fill="#7b8290" opacity="1"/><rect x="1721.4" y="253.9" width="6.0" height="0.8" rx="0.3" fill="#7b8290" opacity="1"/><rect x="1721.4" y="257.2" width="5.0" height="0.8" rx="0.3" fill="#7b8290" opacity="1"/><rect x="1721.4" y="260.5" width="4.0" height="0.8" rx="0.3" fill="#7b8290" opacity="1"/><rect x="1721.4" y="263.8" width="7.0" height="0.8" rx="0.3" fill="#7b8290" opacity="1"/><rect x="1721.4" y="267.1" width="6.0" height="0.8" rx="0.3" fill="#7b8290" opacity="1"/><rect x="1721.4" y="270.4" width="5.0" height="0.8" rx="0.3" fill="#7b8290" opacity="1"/><rect x="1720.7" y="231.4" width="4.0" height="0.8" rx="0.4" fill="#43B9B2" opacity="1"/><rect x="1720.7" y="260.4" width="4.0" height="0.8" rx="0.4" fill="#43B9B2" opacity="1"/><rect x="1732.4" y="217.6" width="9.0" height="1.0" rx="0.28" fill="#555" opacity="1"/><rect x="1795.2" y="217.7" width="11.0" height="0.7" rx="0.3" fill="#43B9B2" opacity="0.5"/><rect x="1732.2" y="219.9" width="23.5" height="11.0" rx="1" fill="#fff" opacity="1"/><rect x="1756.7" y="219.9" width="23.5" height="11.0" rx="1" fill="#fff" opacity="1"/><rect x="1781.2" y="219.9" width="26.0" height="11.0" rx="1" fill="#fff" opacity="1"/><rect x="1733.2" y="220.9" width="6.0" height="0.9" rx="0.25" fill="#555" opacity="1"/><rect x="1757.7" y="220.9" width="6.0" height="0.9" rx="0.25" fill="#555" opacity="1"/><rect x="1782.2" y="220.9" width="6.0" height="0.9" rx="0.25" fill="#555" opacity="1"/><path d="M1734.2 228.6a4 4 0 0 1 8 0" fill="none" stroke="#FF8142" stroke-width="1"/><path d="M1734.2 228.6a4 4 0 0 1 1.6 -3.2" fill="none" stroke="#C280D2" stroke-width="1"/><path d="M1740.7 225.4a4 4 0 0 1 1.5 3.2" fill="none" stroke="#43B9B2" stroke-width="1"/><rect x="1745.2" y="223.9" width="5.0" height="0.9" rx="0.3" fill="#666" opacity="1"/><rect x="1745.2" y="225.9" width="3.5" height="0.7" rx="0.24" fill="#999" opacity="1"/><rect x="1745.2" y="227.4" width="3.5" height="0.7" rx="0.24" fill="#999" opacity="1"/><path d="M1758.7 228.4l2.5 -.2l1.5 -2.6l1.5 2.4l3 .2l2 -.6l2.5 .5l2 -2.2l1.5 2.2l2 .3" fill="none" stroke="#43B9B2" stroke-width=".4"/><rect x="1782.2" y="223.8" width="5.5" height="1.8" rx="0.4" fill="#E9A040" opacity="1"/><rect x="1782.2" y="226.7" width="5.0" height="1.6" rx="0.5" fill="#C280D2" opacity="1"/><rect x="1794.7" y="225.9" width="0.5" height="1.0" rx="0.2" fill="#C280D2" opacity="1"/><rect x="1795.7" y="224.9" width="0.5" height="2.0" rx="0.2" fill="#C280D2" opacity="1"/><rect x="1796.7" y="225.5" width="0.5" height="1.4" rx="0.2" fill="#C280D2" opacity="1"/><rect x="1797.7" y="224.3" width="0.5" height="2.6" rx="0.2" fill="#C280D2" opacity="1"/><rect x="1798.7" y="225.3" width="0.5" height="1.6" rx="0.2" fill="#C280D2" opacity="1"/><rect x="1799.7" y="224.7" width="0.5" height="2.2" rx="0.2" fill="#C280D2" opacity="1"/><rect x="1800.7" y="225.7" width="0.5" height="1.2" rx="0.2" fill="#C280D2" opacity="1"/><rect x="1800.2" y="227.4" width="3.2" height="1.5" rx="0.4" fill="#43B9B2" opacity="1"/><rect x="1732.2" y="232.2" width="28.0" height="16.5" rx="1" fill="#fff" opacity="1"/><rect x="1733.2" y="233.2" width="8.0" height="0.9" rx="0.25" fill="#555" opacity="1"/><path d="M1734.7 245.9l0 -1.5c3 -1 4 -4.5 7 -4.5s3 2.5 5 2s3 -5 6 -5.5s4 1 6 3l0 6.500z" fill="#C280D2" opacity=".35"/><path d="M1734.7 244.4c3 -1 4 -4.5 7 -4.5s3 2.500 5 2s3 -5 6 -5.500s4 1 6 3" fill="none" stroke="#C280D2" stroke-width=".4"/><rect x="1761.2" y="232.2" width="46.0" height="16.5" rx="1" fill="#fff" opacity="1"/><rect x="1762.2" y="233.2" width="4.0" height="0.9" rx="0.25" fill="#555" opacity="1"/><rect x="1762.7" y="235.7" width="1.2" height="1.2" rx="0.6" fill="#43B9B2" opacity="0.7"/><rect x="1764.7" y="235.9" width="4.0" height="0.8" rx="0.3" fill="#888" opacity="1"/><rect x="1770.7" y="235.9" width="10.0" height="0.7" rx="0.2" fill="#999" opacity="1"/><rect x="1785.2" y="235.7" width="6.0" height="1.1" rx="0.3" fill="#43B9B2" opacity="0.8"/><rect x="1798.2" y="235.9" width="5.0" height="0.7" rx="0.2" fill="#43B9B2" opacity="0.6"/><rect x="1762.7" y="238.9" width="1.2" height="1.2" rx="0.6" fill="#C280D2" opacity="0.7"/><rect x="1764.7" y="239.1" width="4.0" height="0.8" rx="0.3" fill="#888" opacity="1"/><rect x="1770.7" y="239.1" width="10.0" height="0.7" rx="0.2" fill="#999" opacity="1"/><rect x="1785.2" y="238.9" width="8.0" height="1.1" rx="0.3" fill="#C280D2" opacity="0.8"/><rect x="1798.2" y="239.1" width="5.0" height="0.7" rx="0.2" fill="#43B9B2" opacity="0.6"/><rect x="1762.7" y="242.1" width="1.2" height="1.2" rx="0.6" fill="#43B9B2" opacity="0.7"/><rect x="1764.7" y="242.3" width="4.0" height="0.8" rx="0.3" fill="#888" opacity="1"/><rect x="1770.7" y="242.3" width="10.0" height="0.7" rx="0.2" fill="#999" opacity="1"/><rect x="1785.2" y="242.1" width="6.0" height="1.1" rx="0.3" fill="#FF8142" opacity="0.8"/><rect x="1798.2" y="242.3" width="5.0" height="0.7" rx="0.2" fill="#43B9B2" opacity="0.6"/><rect x="1762.7" y="245.3" width="1.2" height="1.2" rx="0.6" fill="#43B9B2" opacity="0.7"/><rect x="1764.7" y="245.5" width="4.0" height="0.8" rx="0.3" fill="#888" opacity="1"/><rect x="1770.7" y="245.5" width="10.0" height="0.7" rx="0.2" fill="#999" opacity="1"/><rect x="1785.2" y="245.3" width="8.0" height="1.1" rx="0.3" fill="#43B9B2" opacity="0.8"/><rect x="1798.2" y="245.5" width="5.0" height="0.7" rx="0.2" fill="#43B9B2" opacity="0.6"/><rect x="1732.2" y="250.0" width="23.5" height="29.0" rx="1" fill="#fff" opacity="1"/><rect x="1733.2" y="251.0" width="5.0" height="0.9" rx="0.25" fill="#555" opacity="1"/><rect x="1734.2" y="253.9" width="11.0" height="0.7" rx="0.2" fill="#999" opacity="1"/><rect x="1752.2" y="253.6" width="2.0" height="1.1" rx="0.3" fill="#C280D2" opacity="0.5"/><rect x="1734.2" y="257.2" width="13.0" height="0.7" rx="0.2" fill="#999" opacity="1"/><rect x="1752.2" y="256.9" width="2.0" height="1.1" rx="0.3" fill="#C280D2" opacity="0.5"/><rect x="1734.2" y="260.5" width="15.0" height="0.7" rx="0.2" fill="#999" opacity="1"/><rect x="1752.2" y="260.2" width="2.0" height="1.1" rx="0.3" fill="#C280D2" opacity="0.5"/><rect x="1734.2" y="263.8" width="11.0" height="0.7" rx="0.2" fill="#999" opacity="1"/><rect x="1752.2" y="263.5" width="2.0" height="1.1" rx="0.3" fill="#C280D2" opacity="0.5"/><rect x="1734.2" y="267.1" width="13.0" height="0.7" rx="0.2" fill="#999" opacity="1"/><rect x="1752.2" y="266.8" width="2.0" height="1.1" rx="0.3" fill="#C280D2" opacity="0.5"/><rect x="1733.4" y="270.4" width="2.2" height="2.2" rx="1.1" fill="#43B9B2" opacity="0.8"/><rect x="1736.7" y="271.1" width="5.0" height="0.8" rx="0.24" fill="#999" opacity="1"/><rect x="1733.4" y="275.7" width="2.2" height="2.2" rx="1.1" fill="#C280D2" opacity="0.8"/><rect x="1736.7" y="276.4" width="5.0" height="0.8" rx="0.24" fill="#999" opacity="1"/><rect x="1756.7" y="250.0" width="23.5" height="29.0" rx="1" fill="#fff" opacity="1"/><rect x="1757.7" y="251.0" width="7.0" height="0.9" rx="0.25" fill="#555" opacity="1"/><rect x="1767.7" y="260.4" width="0.6" height="6.0" rx="0.2" fill="#43B9B2" opacity="1"/><rect x="1768.6" y="257.4" width="0.6" height="9.0" rx="0.2" fill="#C280D2" opacity="1"/><rect x="1769.5" y="259.4" width="0.6" height="7.0" rx="0.2" fill="#FF8142" opacity="1"/><rect x="1771.3" y="256.4" width="0.6" height="10.0" rx="0.2" fill="#43B9B2" opacity="1"/><rect x="1772.2" y="254.4" width="0.6" height="12.0" rx="0.2" fill="#C280D2" opacity="1"/><rect x="1773.1" y="258.4" width="0.6" height="8.0" rx="0.2" fill="#FF8142" opacity="1"/><rect x="1774.9" y="259.4" width="0.6" height="7.0" rx="0.2" fill="#43B9B2" opacity="1"/><rect x="1775.8" y="256.4" width="0.6" height="10.0" rx="0.2" fill="#C280D2" opacity="1"/><rect x="1776.7" y="257.4" width="0.6" height="9.0" rx="0.2" fill="#FF8142" opacity="1"/><rect x="1759.2" y="254.4" width="0.6" height="12.0" rx="0.2" fill="#43B9B2" opacity="1"/><rect x="1761.2" y="258.4" width="0.6" height="8.0" rx="0.2" fill="#C280D2" opacity="1"/><rect x="1771.2" y="270.4" width="1.6" height="0.7" rx="0.2" fill="#999" opacity="1"/><rect x="1771.2" y="274.9" width="1.6" height="0.7" rx="0.2" fill="#C280D2" opacity="0.6"/><rect x="1774.2" y="270.4" width="1.6" height="0.7" rx="0.2" fill="#999" opacity="1"/><rect x="1774.2" y="274.9" width="1.6" height="0.7" rx="0.2" fill="#C280D2" opacity="0.6"/><rect x="1777.2" y="270.4" width="1.6" height="0.7" rx="0.2" fill="#999" opacity="1"/><rect x="1777.2" y="274.9" width="1.6" height="0.7" rx="0.2" fill="#C280D2" opacity="0.6"/><rect x="1781.2" y="250.0" width="26.0" height="29.0" rx="1" fill="#fff" opacity="1"/><rect x="1782.2" y="251.0" width="3.5" height="0.9" rx="0.25" fill="#555" opacity="1"/><rect x="1801.2" y="250.6" width="4.5" height="1.6" rx="0.4" fill="#43B9B2" opacity="1"/><rect x="1789.2" y="255.7" width="9.0" height="0.8" rx="0.3" fill="#666" opacity="1"/><rect x="1783.8" y="259.4" width="0.9" height="0.9" rx="0.3" fill="#99a" opacity="0.55"/><rect x="1786.9" y="259.4" width="0.9" height="0.9" rx="0.3" fill="#99a" opacity="0.55"/><rect x="1790.0" y="259.4" width="0.9" height="0.9" rx="0.3" fill="#99a" opacity="0.55"/><rect x="1793.1" y="259.4" width="0.9" height="0.9" rx="0.3" fill="#99a" opacity="0.55"/><rect x="1796.2" y="259.4" width="0.9" height="0.9" rx="0.3" fill="#99a" opacity="0.55"/><rect x="1799.3" y="259.4" width="0.9" height="0.9" rx="0.3" fill="#99a" opacity="0.55"/><rect x="1802.4" y="259.4" width="0.9" height="0.9" rx="0.3" fill="#99a" opacity="0.55"/><rect x="1783.8" y="262.0" width="0.9" height="0.9" rx="0.3" fill="#99a" opacity="0.55"/><rect x="1786.9" y="262.0" width="0.9" height="0.9" rx="0.3" fill="#99a" opacity="0.55"/><rect x="1790.0" y="262.0" width="0.9" height="0.9" rx="0.3" fill="#99a" opacity="0.55"/><rect x="1793.1" y="262.0" width="0.9" height="0.9" rx="0.3" fill="#99a" opacity="0.55"/><rect x="1796.2" y="262.0" width="0.9" height="0.9" rx="0.3" fill="#99a" opacity="0.55"/><rect x="1799.3" y="262.0" width="0.9" height="0.9" rx="0.3" fill="#99a" opacity="0.55"/><rect x="1802.4" y="262.0" width="0.9" height="0.9" rx="0.3" fill="#99a" opacity="0.55"/><rect x="1783.8" y="264.6" width="0.9" height="0.9" rx="0.3" fill="#99a" opacity="0.55"/><rect x="1786.9" y="264.6" width="0.9" height="0.9" rx="0.3" fill="#99a" opacity="0.55"/><rect x="1790.0" y="264.6" width="0.9" height="0.9" rx="0.3" fill="#99a" opacity="0.55"/><rect x="1793.1" y="264.6" width="0.9" height="0.9" rx="0.3" fill="#99a" opacity="0.55"/><rect x="1796.2" y="264.6" width="0.9" height="0.9" rx="0.3" fill="#99a" opacity="0.55"/><rect x="1799.3" y="264.6" width="0.9" height="0.9" rx="0.3" fill="#99a" opacity="0.55"/><rect x="1802.4" y="264.6" width="0.9" height="0.9" rx="0.3" fill="#99a" opacity="0.55"/><rect x="1783.8" y="267.2" width="0.9" height="0.9" rx="0.3" fill="#99a" opacity="0.55"/><rect x="1786.9" y="267.2" width="0.9" height="0.9" rx="0.3" fill="#99a" opacity="0.55"/><rect x="1790.0" y="267.2" width="0.9" height="0.9" rx="0.3" fill="#99a" opacity="0.55"/><rect x="1793.1" y="267.2" width="0.9" height="0.9" rx="0.3" fill="#99a" opacity="0.55"/><rect x="1796.2" y="267.2" width="0.9" height="0.9" rx="0.3" fill="#99a" opacity="0.55"/><rect x="1799.3" y="267.2" width="0.9" height="0.9" rx="0.3" fill="#99a" opacity="0.55"/><rect x="1802.4" y="267.2" width="0.9" height="0.9" rx="0.3" fill="#99a" opacity="0.55"/><rect x="1783.8" y="269.8" width="0.9" height="0.9" rx="0.3" fill="#99a" opacity="0.55"/><rect x="1786.9" y="269.8" width="0.9" height="0.9" rx="0.3" fill="#99a" opacity="0.55"/><rect x="1790.0" y="269.8" width="0.9" height="0.9" rx="0.3" fill="#99a" opacity="0.55"/><rect x="1793.1" y="269.8" width="0.9" height="0.9" rx="0.3" fill="#99a" opacity="0.55"/><rect x="1796.2" y="269.8" width="0.9" height="0.9" rx="0.3" fill="#99a" opacity="0.55"/><rect x="1799.3" y="269.8" width="0.9" height="0.9" rx="0.3" fill="#99a" opacity="0.55"/><rect x="1802.4" y="269.8" width="0.9" height="0.9" rx="0.3" fill="#99a" opacity="0.55"/><rect x="1783.8" y="272.4" width="0.9" height="0.9" rx="0.3" fill="#99a" opacity="0.55"/><rect x="1786.9" y="272.4" width="0.9" height="0.9" rx="0.3" fill="#99a" opacity="0.55"/><rect x="1790.0" y="272.4" width="0.9" height="0.9" rx="0.3" fill="#99a" opacity="0.55"/><rect x="1793.1" y="272.4" width="0.9" height="0.9" rx="0.3" fill="#99a" opacity="0.55"/><rect x="1796.2" y="272.4" width="0.9" height="0.9" rx="0.3" fill="#99a" opacity="0.55"/><rect x="1799.3" y="272.4" width="0.9" height="0.9" rx="0.3" fill="#99a" opacity="0.55"/><rect x="1802.4" y="272.4" width="0.9" height="0.9" rx="0.3" fill="#99a" opacity="0.55"/><rect x="1786.0" y="263.0" width="2.6" height="2.0" rx="0.4" fill="#43B9B2" opacity="1"/><rect x="1783.2" y="275.7" width="8.0" height="0.7" rx="0.2" fill="#999" opacity="1"/><rect x="1800.2" y="275.2" width="2.4" height="1.4" rx="0.3" fill="#c96" opacity="1"/></g></g></svg>
<svg style="left:1497px;top:307.3px" width="326" height="117.30000000000001" viewBox="0 0 326 117.30000000000001"><path d="M1.5 9 V109.30000000000001 a6 6 0 0 0 6 6 H318.5 a6 6 0 0 0 6 -6 V9" fill="none" stroke="#c9cad2" stroke-width="1" stroke-dasharray="3 2.5"/><path d="M1.5 9.5 V8.2 a6 6 0 0 1 6 -6 H318.5 a6 6 0 0 1 6 6 V9.5" fill="none" stroke="#43B9B2" stroke-width="2.2"/></svg>
<span class="t" style="top:320.74px;font-size:21px;line-height:21px;color:#3D3D47;-webkit-text-stroke:0.4px #3D3D47;letter-spacing:-0.048px;left:1507.5px;">Sidebar icon:</span>
<span class="t" style="top:345.92px;font-size:14.5px;line-height:14.5px;color:#6c6c72;letter-spacing:0.017px;left:1507.5px;">Choose between 2 different sidebar icon.</span>
<div style="left:1528px;top:372px;width:100px;height:40px;border:2px solid #43B9B2"></div>
<div style="left:1643px;top:372px;width:149px;height:40px;border:1px solid #55555b"></div>
<svg style="left:1544px;top:384px" width="17" height="17" viewBox="0 0 17 17" fill="none" stroke="#43B9B2" stroke-width="1.5" stroke-linecap="round" stroke-linejoin="round"><path d="M10.5 1.1H5Q1 1.1 1 5.1V11.1Q1 15.1 5 15.1H11Q15 15.1 15 11.1V5.8"/><circle cx="14" cy="2.1" r="1.5"/><path d="M4 10.5L6.5 7.2L9.2 9.3L11.6 6" opacity=".5" stroke-width="1.2"/></svg><svg style="left:1659.3px;top:384px" width="17" height="17" viewBox="0 0 17 17" fill="none" stroke="#77777c" stroke-width="1.5" stroke-linecap="round" stroke-linejoin="round"><path d="M10.5 1.1H5Q1 1.1 1 5.1V11.1Q1 15.1 5 15.1H11Q15 15.1 15 11.1V5.8"/><circle cx="14" cy="2.1" r="1.5"/><path d="M4 10.5L6.5 7.2L9.2 9.3L11.6 6" opacity=".5" stroke-width="1.2"/></svg>
<span class="t" style="top:384.68px;font-size:16px;line-height:16px;color:#43B9B2;letter-spacing:-0.05px;left:1566px;">Stroke</span>
<span class="t" style="top:384.68px;font-size:16px;line-height:16px;color:#55555b;letter-spacing:0.27px;left:1681px;">Colorfull icon</span>
<svg style="left:1497px;top:438px" width="326" height="95.79999999999995" viewBox="0 0 326 95.79999999999995"><path d="M1.5 9 V87.79999999999995 a6 6 0 0 0 6 6 H318.5 a6 6 0 0 0 6 -6 V9" fill="none" stroke="#c9cad2" stroke-width="1" stroke-dasharray="3 2.5"/><path d="M1.5 9.5 V8.2 a6 6 0 0 1 6 -6 H318.5 a6 6 0 0 1 6 6 V9.5" fill="none" stroke="#43B9B2" stroke-width="2.2"/></svg>
<span class="t" style="top:451.24px;font-size:21px;line-height:21px;color:#3D3D47;-webkit-text-stroke:0.4px #3D3D47;letter-spacing:0.143px;left:1507.5px;">Layout type:</span>
<span class="t" style="top:476.42px;font-size:14.5px;line-height:14.5px;color:#6c6c72;letter-spacing:0.038px;left:1507.5px;">Choose between 3 different layout types.</span>
<svg style="left:1548px;top:505px" width="16" height="16" viewBox="0 0 16 16"><circle cx="8" cy="8" r="5" fill="#fff" stroke="#43B9B2" stroke-width="4"/></svg>
<svg style="left:1636px;top:505px" width="16" height="16" viewBox="0 0 16 16"><circle cx="8" cy="8" r="6.5" fill="#fff" stroke="#c9c9cf" stroke-width="1"/></svg>
<svg style="left:1725px;top:505px" width="16" height="16" viewBox="0 0 16 16"><circle cx="8" cy="8" r="6.5" fill="#fff" stroke="#c9c9cf" stroke-width="1"/></svg>
<span class="t" style="top:506.01px;font-size:13.5px;line-height:13.5px;color:#3D3D47;-webkit-text-stroke:0.25px #3D3D47;letter-spacing:-0.258px;left:1570.5px;">LTR</span>
<span class="t" style="top:506.01px;font-size:13.5px;line-height:13.5px;color:#3D3D47;-webkit-text-stroke:0.25px #3D3D47;letter-spacing:-0.133px;left:1658px;">RTL</span>
<span class="t" style="top:506.01px;font-size:13.5px;line-height:13.5px;color:#3D3D47;-webkit-text-stroke:0.25px #3D3D47;letter-spacing:0.367px;left:1747px;">Box</span>
<svg style="left:1497px;top:546.8px" width="326" height="116.90000000000009" viewBox="0 0 326 116.90000000000009"><path d="M1.5 9 V108.90000000000009 a6 6 0 0 0 6 6 H318.5 a6 6 0 0 0 6 -6 V9" fill="none" stroke="#c9cad2" stroke-width="1" stroke-dasharray="3 2.5"/><path d="M1.5 9.5 V8.2 a6 6 0 0 1 6 -6 H318.5 a6 6 0 0 1 6 6 V9.5" fill="none" stroke="#43B9B2" stroke-width="2.2"/></svg>
<span class="t" style="top:560.24px;font-size:21px;line-height:21px;color:#3D3D47;-webkit-text-stroke:0.4px #3D3D47;letter-spacing:0.188px;left:1507.5px;">Sidebar type:</span>
<span class="t" style="top:585.42px;font-size:14.5px;line-height:14.5px;color:#6c6c72;letter-spacing:0.04px;left:1507.5px;">Choose between 2 different sidebar types.</span>
<div style="left:1555px;top:611px;width:87px;height:40px;border:2px solid #43B9B2"></div>
<div style="left:1658px;top:611px;width:106px;height:40px;border:1px solid #55555b"></div>
<span class="t" style="top:623.44px;font-size:16.5px;line-height:16.5px;color:#43B9B2;letter-spacing:0.27px;left:1570.50px;">Vertical</span>
<span class="t" style="top:623.44px;font-size:16.5px;line-height:16.5px;color:#55555b;letter-spacing:0.189px;left:1673.00px;">Horizontal</span>
<svg style="left:1497px;top:676.5px" width="326" height="129.5" viewBox="0 0 326 129.5"><path d="M1.5 9 V121.5 a6 6 0 0 0 6 6 H318.5 a6 6 0 0 0 6 -6 V9" fill="none" stroke="#c9cad2" stroke-width="1" stroke-dasharray="3 2.5"/><path d="M1.5 9.5 V8.2 a6 6 0 0 1 6 -6 H318.5 a6 6 0 0 1 6 6 V9.5" fill="none" stroke="#43B9B2" stroke-width="2.2"/></svg>
<span class="t" style="top:690.24px;font-size:21px;line-height:21px;color:#3D3D47;-webkit-text-stroke:0.4px #3D3D47;letter-spacing:-0.017px;left:1507.5px;">Color Picker:</span>
<div style="left:1507px;top:727.8px;width:50px;height:27px;background:#fff;border:1px solid #767676;border-radius:3px"></div>
<div style="left:1510.2px;top:731px;width:43.6px;height:20.6px;background:#43B9B2;border:1px solid #777"></div>
<div style="left:1565px;top:727.8px;width:50px;height:27px;background:#fff;border:1px solid #767676;border-radius:3px"></div>
<div style="left:1568.2px;top:731px;width:43.6px;height:20.6px;background:#C280D2;border:1px solid #777"></div>
<div style="left:1507px;top:759px;width:82px;height:37px;background:#43B9B2;border-radius:5px"></div>
<div style="left:1597px;top:759px;width:81px;height:37px;background:#43B9B2;border-radius:5px"></div>
<span class="t" style="top:769.67px;font-size:15px;line-height:15px;color:#fff;-webkit-text-stroke:0.4px #fff;letter-spacing:0.292px;left:1528.65px;">Apply</span>
<span class="t" style="top:769.67px;font-size:15px;line-height:15px;color:#fff;-webkit-text-stroke:0.4px #fff;letter-spacing:-0.522px;left:1618.95px;">Reset</span>
<svg style="left:1700px;top:195px" width="134" height="160" viewBox="1700 195 134 160"><rect x="1714.9" y="204.9" width="106.1" height="83.6" fill="none" stroke="#FF0000" stroke-width="5.4"/><path d="M1729.7 346L1756.7 278.2" stroke="#FF0000" stroke-width="5.6"/><polygon points="1767.4,252.9 1743.7,273.2 1769.8,283.1" fill="#FF0000"/></svg>
</div></body></html>
